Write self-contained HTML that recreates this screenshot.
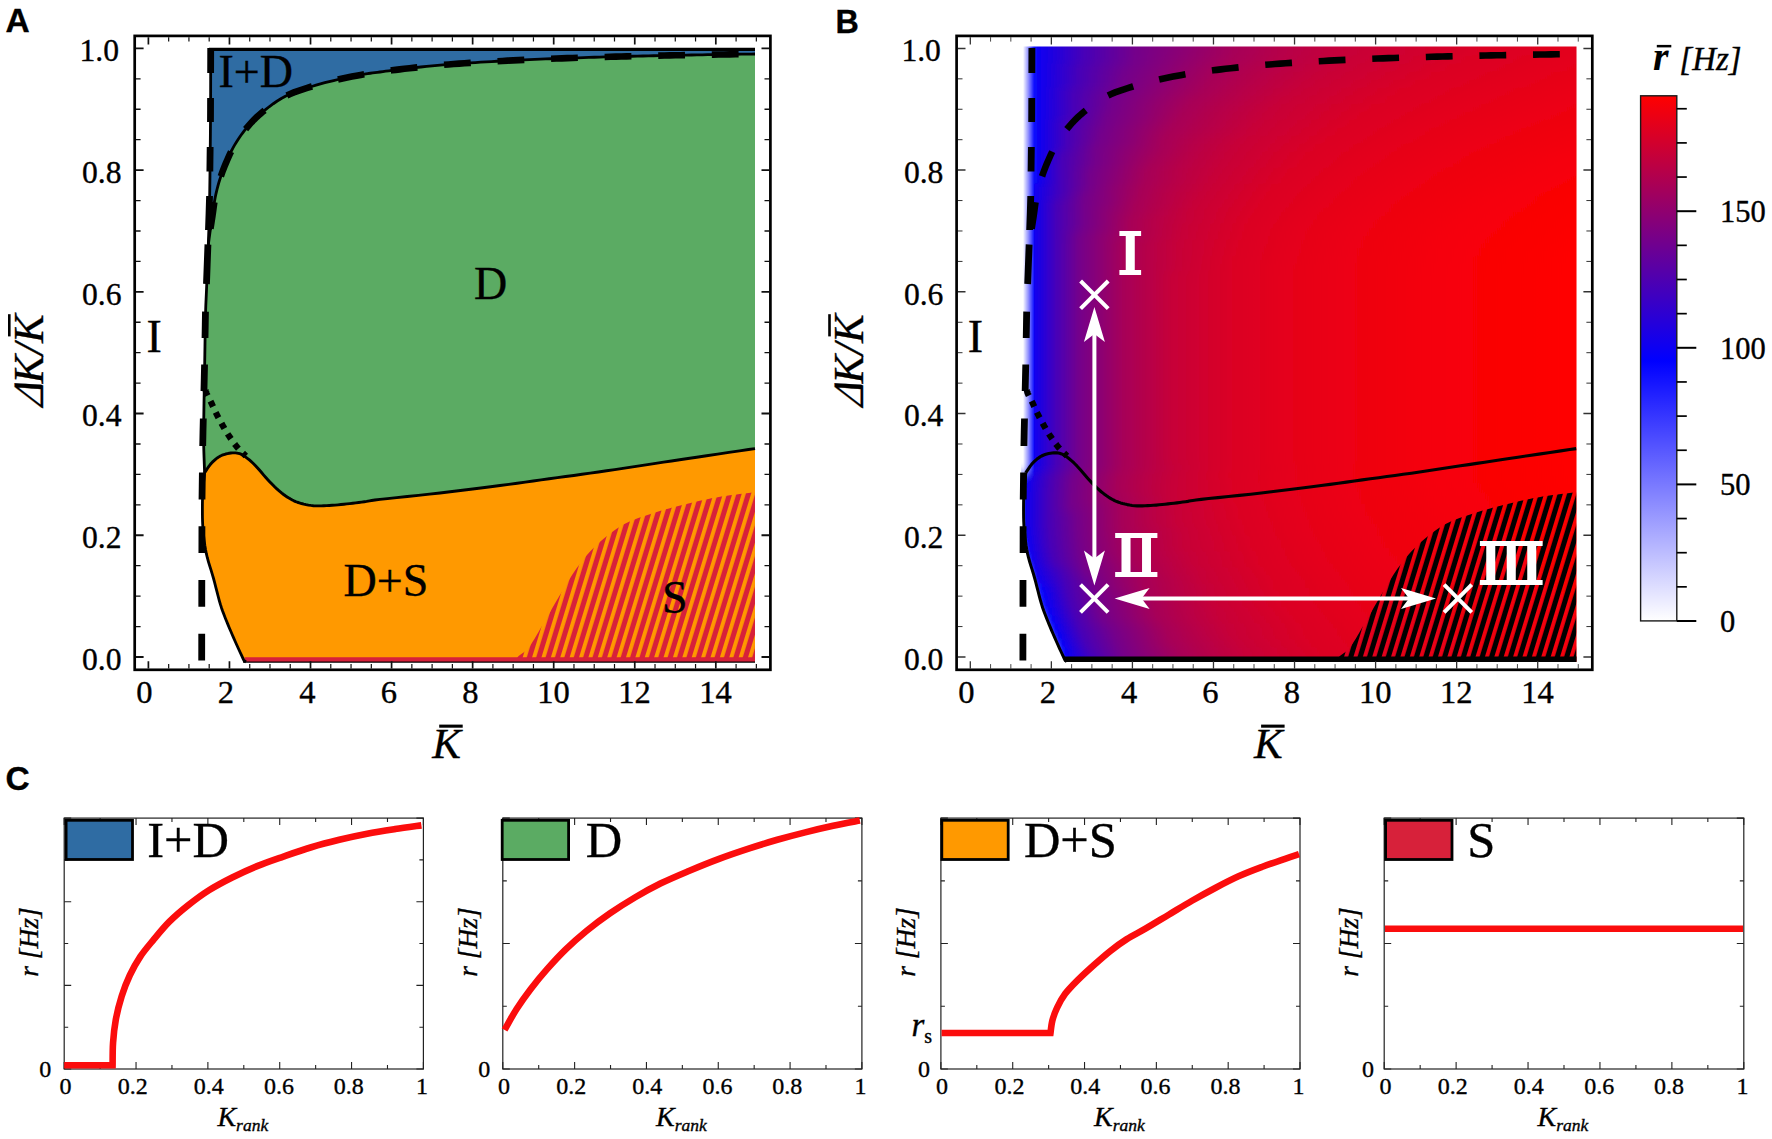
<!DOCTYPE html>
<html lang="en"><head><meta charset="utf-8"><title>Figure</title>
<style>html,body{margin:0;padding:0;background:#fff}body{width:1772px;height:1139px;overflow:hidden}svg{display:block}text{font-family:'Liberation Serif','DejaVu Serif',serif;fill:#000;stroke:#000;stroke-width:.35px}</style>
</head><body>
<svg width="1772" height="1139" viewBox="0 0 1772 1139">
<defs><pattern id="hA" width="8.98" height="20" patternUnits="userSpaceOnUse" patternTransform="translate(0.6 0) rotate(17)"><rect width="8.98" height="20" fill="#d7213a"/><rect x="0" width="3.86" height="20" fill="#ff9900"/></pattern>
<pattern id="hB" width="8.98" height="20" patternUnits="userSpaceOnUse" patternTransform="translate(821.8 0) rotate(17)"><rect x="3.86" width="5.12" height="20" fill="#000"/></pattern>
<linearGradient id="hg0" gradientUnits="userSpaceOnUse" x1="1023" y1="0" x2="1576.5" y2="0"><stop offset="0" stop-color="#ffffff"/><stop offset="0.01" stop-color="#8c8cff"/><stop offset="0.02" stop-color="#0d0dff"/><stop offset="0.03" stop-color="#0f00f0"/><stop offset="0.11" stop-color="#4700b8"/><stop offset="0.2" stop-color="#73008c"/><stop offset="0.29" stop-color="#8c0073"/><stop offset="0.38" stop-color="#a60059"/><stop offset="0.48" stop-color="#b80047"/><stop offset="0.59" stop-color="#c70038"/><stop offset="0.83" stop-color="#db0024"/><stop offset="1" stop-color="#e3001c"/></linearGradient>
<linearGradient id="hg1" gradientUnits="userSpaceOnUse" x1="1023" y1="0" x2="1576.5" y2="0"><stop offset="0" stop-color="#ffffff"/><stop offset="0.01" stop-color="#8c8cff"/><stop offset="0.02" stop-color="#0d0dff"/><stop offset="0.03" stop-color="#0f00f0"/><stop offset="0.11" stop-color="#4700b8"/><stop offset="0.2" stop-color="#73008c"/><stop offset="0.28" stop-color="#8c0073"/><stop offset="0.37" stop-color="#a60059"/><stop offset="0.47" stop-color="#b80047"/><stop offset="0.57" stop-color="#c70038"/><stop offset="0.8" stop-color="#db0024"/><stop offset="1" stop-color="#e5001a"/></linearGradient>
<linearGradient id="hg2" gradientUnits="userSpaceOnUse" x1="1023" y1="0" x2="1576.5" y2="0"><stop offset="0" stop-color="#ffffff"/><stop offset="0.01" stop-color="#8c8cff"/><stop offset="0.02" stop-color="#0d0dff"/><stop offset="0.03" stop-color="#0f00f0"/><stop offset="0.1" stop-color="#4700b8"/><stop offset="0.19" stop-color="#73008c"/><stop offset="0.27" stop-color="#8c0073"/><stop offset="0.35" stop-color="#a60059"/><stop offset="0.45" stop-color="#b80047"/><stop offset="0.55" stop-color="#c70038"/><stop offset="0.77" stop-color="#db0024"/><stop offset="0.98" stop-color="#e5001a"/><stop offset="1" stop-color="#e60019"/></linearGradient>
<linearGradient id="hg3" gradientUnits="userSpaceOnUse" x1="1023" y1="0" x2="1576.5" y2="0"><stop offset="0" stop-color="#ffffff"/><stop offset="0.01" stop-color="#8c8cff"/><stop offset="0.02" stop-color="#0d0dff"/><stop offset="0.03" stop-color="#0f00f0"/><stop offset="0.1" stop-color="#4700b8"/><stop offset="0.18" stop-color="#73008c"/><stop offset="0.26" stop-color="#8c0073"/><stop offset="0.34" stop-color="#a60059"/><stop offset="0.43" stop-color="#b80047"/><stop offset="0.53" stop-color="#c70038"/><stop offset="0.74" stop-color="#db0024"/><stop offset="0.94" stop-color="#e5001a"/><stop offset="1" stop-color="#e80017"/></linearGradient>
<linearGradient id="hg4" gradientUnits="userSpaceOnUse" x1="1023" y1="0" x2="1576.5" y2="0"><stop offset="0" stop-color="#ffffff"/><stop offset="0.01" stop-color="#8c8cff"/><stop offset="0.02" stop-color="#0d0dff"/><stop offset="0.03" stop-color="#0f00f0"/><stop offset="0.1" stop-color="#4700b8"/><stop offset="0.18" stop-color="#73008c"/><stop offset="0.25" stop-color="#8c0073"/><stop offset="0.33" stop-color="#a60059"/><stop offset="0.42" stop-color="#b80047"/><stop offset="0.51" stop-color="#c70038"/><stop offset="0.71" stop-color="#db0024"/><stop offset="0.91" stop-color="#e5001a"/><stop offset="1" stop-color="#e90016"/></linearGradient>
<linearGradient id="hg5" gradientUnits="userSpaceOnUse" x1="1023" y1="0" x2="1576.5" y2="0"><stop offset="0" stop-color="#ffffff"/><stop offset="0.01" stop-color="#8c8cff"/><stop offset="0.02" stop-color="#0d0dff"/><stop offset="0.03" stop-color="#0f00f0"/><stop offset="0.09" stop-color="#4700b8"/><stop offset="0.17" stop-color="#73008c"/><stop offset="0.24" stop-color="#8c0073"/><stop offset="0.32" stop-color="#a60059"/><stop offset="0.4" stop-color="#b80047"/><stop offset="0.49" stop-color="#c70038"/><stop offset="0.68" stop-color="#db0024"/><stop offset="0.87" stop-color="#e5001a"/><stop offset="1" stop-color="#eb0014"/></linearGradient>
<linearGradient id="hg6" gradientUnits="userSpaceOnUse" x1="1023" y1="0" x2="1576.5" y2="0"><stop offset="0" stop-color="#ffffff"/><stop offset="0.01" stop-color="#8c8cff"/><stop offset="0.02" stop-color="#0d0dff"/><stop offset="0.03" stop-color="#0f00f0"/><stop offset="0.09" stop-color="#4700b8"/><stop offset="0.16" stop-color="#73008c"/><stop offset="0.23" stop-color="#8c0073"/><stop offset="0.3" stop-color="#a60059"/><stop offset="0.39" stop-color="#b80047"/><stop offset="0.47" stop-color="#c70038"/><stop offset="0.66" stop-color="#db0024"/><stop offset="0.84" stop-color="#e5001a"/><stop offset="1" stop-color="#ec0013"/></linearGradient>
<linearGradient id="hg7" gradientUnits="userSpaceOnUse" x1="1023" y1="0" x2="1576.5" y2="0"><stop offset="0" stop-color="#ffffff"/><stop offset="0.01" stop-color="#8c8cff"/><stop offset="0.02" stop-color="#0d0dff"/><stop offset="0.03" stop-color="#0f00f0"/><stop offset="0.09" stop-color="#4700b8"/><stop offset="0.16" stop-color="#73008c"/><stop offset="0.22" stop-color="#8c0073"/><stop offset="0.29" stop-color="#a60059"/><stop offset="0.37" stop-color="#b80047"/><stop offset="0.45" stop-color="#c70038"/><stop offset="0.63" stop-color="#db0024"/><stop offset="0.81" stop-color="#e5001a"/><stop offset="0.98" stop-color="#ed0012"/><stop offset="1" stop-color="#ee0011"/></linearGradient>
<linearGradient id="hg8" gradientUnits="userSpaceOnUse" x1="1023" y1="0" x2="1576.5" y2="0"><stop offset="0" stop-color="#ffffff"/><stop offset="0.01" stop-color="#8c8cff"/><stop offset="0.02" stop-color="#0d0dff"/><stop offset="0.03" stop-color="#0f00f0"/><stop offset="0.09" stop-color="#4700b8"/><stop offset="0.15" stop-color="#73008c"/><stop offset="0.22" stop-color="#8c0073"/><stop offset="0.28" stop-color="#a60059"/><stop offset="0.36" stop-color="#b80047"/><stop offset="0.44" stop-color="#c70038"/><stop offset="0.61" stop-color="#db0024"/><stop offset="0.78" stop-color="#e5001a"/><stop offset="0.95" stop-color="#ed0012"/><stop offset="1" stop-color="#ef0010"/></linearGradient>
<linearGradient id="hg9" gradientUnits="userSpaceOnUse" x1="1023" y1="0" x2="1576.5" y2="0"><stop offset="0" stop-color="#ffffff"/><stop offset="0.01" stop-color="#8c8cff"/><stop offset="0.02" stop-color="#0d0dff"/><stop offset="0.03" stop-color="#0f00f0"/><stop offset="0.08" stop-color="#4700b8"/><stop offset="0.15" stop-color="#73008c"/><stop offset="0.21" stop-color="#8c0073"/><stop offset="0.27" stop-color="#a60059"/><stop offset="0.35" stop-color="#b80047"/><stop offset="0.42" stop-color="#c70038"/><stop offset="0.59" stop-color="#db0024"/><stop offset="0.75" stop-color="#e5001a"/><stop offset="0.91" stop-color="#ed0012"/><stop offset="1" stop-color="#f0000f"/></linearGradient>
<linearGradient id="hg10" gradientUnits="userSpaceOnUse" x1="1023" y1="0" x2="1576.5" y2="0"><stop offset="0" stop-color="#ffffff"/><stop offset="0.01" stop-color="#8c8cff"/><stop offset="0.02" stop-color="#0d0dff"/><stop offset="0.03" stop-color="#0f00f0"/><stop offset="0.08" stop-color="#4700b8"/><stop offset="0.14" stop-color="#73008c"/><stop offset="0.2" stop-color="#8c0073"/><stop offset="0.26" stop-color="#a60059"/><stop offset="0.34" stop-color="#b80047"/><stop offset="0.41" stop-color="#c70038"/><stop offset="0.57" stop-color="#db0024"/><stop offset="0.72" stop-color="#e5001a"/><stop offset="0.88" stop-color="#ed0012"/><stop offset="1" stop-color="#f2000d"/></linearGradient>
<linearGradient id="hg11" gradientUnits="userSpaceOnUse" x1="1023" y1="0" x2="1576.5" y2="0"><stop offset="0" stop-color="#ffffff"/><stop offset="0.01" stop-color="#8c8cff"/><stop offset="0.02" stop-color="#0d0dff"/><stop offset="0.03" stop-color="#0f00f0"/><stop offset="0.08" stop-color="#4700b8"/><stop offset="0.14" stop-color="#73008c"/><stop offset="0.2" stop-color="#8c0073"/><stop offset="0.25" stop-color="#a60059"/><stop offset="0.32" stop-color="#b80047"/><stop offset="0.39" stop-color="#c70038"/><stop offset="0.55" stop-color="#db0024"/><stop offset="0.7" stop-color="#e5001a"/><stop offset="0.85" stop-color="#ed0012"/><stop offset="1" stop-color="#f3000c"/></linearGradient>
<linearGradient id="hg12" gradientUnits="userSpaceOnUse" x1="1023" y1="0" x2="1576.5" y2="0"><stop offset="0" stop-color="#ffffff"/><stop offset="0.01" stop-color="#8c8cff"/><stop offset="0.02" stop-color="#0d0dff"/><stop offset="0.03" stop-color="#0f00f0"/><stop offset="0.08" stop-color="#4700b8"/><stop offset="0.13" stop-color="#73008c"/><stop offset="0.19" stop-color="#8c0073"/><stop offset="0.25" stop-color="#a60059"/><stop offset="0.31" stop-color="#b80047"/><stop offset="0.38" stop-color="#c70038"/><stop offset="0.53" stop-color="#db0024"/><stop offset="0.67" stop-color="#e5001a"/><stop offset="0.82" stop-color="#ed0012"/><stop offset="1" stop-color="#f4000b"/></linearGradient>
<linearGradient id="hg13" gradientUnits="userSpaceOnUse" x1="1023" y1="0" x2="1576.5" y2="0"><stop offset="0" stop-color="#ffffff"/><stop offset="0.01" stop-color="#8c8cff"/><stop offset="0.02" stop-color="#0d0dff"/><stop offset="0.03" stop-color="#0f00f0"/><stop offset="0.07" stop-color="#4700b8"/><stop offset="0.13" stop-color="#73008c"/><stop offset="0.18" stop-color="#8c0073"/><stop offset="0.24" stop-color="#a60059"/><stop offset="0.3" stop-color="#b80047"/><stop offset="0.37" stop-color="#c70038"/><stop offset="0.51" stop-color="#db0024"/><stop offset="0.65" stop-color="#e5001a"/><stop offset="0.79" stop-color="#ed0012"/><stop offset="1" stop-color="#f60009"/></linearGradient>
<linearGradient id="hg14" gradientUnits="userSpaceOnUse" x1="1023" y1="0" x2="1576.5" y2="0"><stop offset="0" stop-color="#ffffff"/><stop offset="0.01" stop-color="#8c8cff"/><stop offset="0.02" stop-color="#0d0dff"/><stop offset="0.03" stop-color="#0f00f0"/><stop offset="0.07" stop-color="#4700b8"/><stop offset="0.13" stop-color="#73008c"/><stop offset="0.18" stop-color="#8c0073"/><stop offset="0.23" stop-color="#a60059"/><stop offset="0.29" stop-color="#b80047"/><stop offset="0.36" stop-color="#c70038"/><stop offset="0.5" stop-color="#db0024"/><stop offset="0.63" stop-color="#e5001a"/><stop offset="0.77" stop-color="#ed0012"/><stop offset="1" stop-color="#f70008"/></linearGradient>
<linearGradient id="hg15" gradientUnits="userSpaceOnUse" x1="1023" y1="0" x2="1576.5" y2="0"><stop offset="0" stop-color="#ffffff"/><stop offset="0.01" stop-color="#8c8cff"/><stop offset="0.02" stop-color="#0d0dff"/><stop offset="0.03" stop-color="#0f00f0"/><stop offset="0.07" stop-color="#4700b8"/><stop offset="0.12" stop-color="#73008c"/><stop offset="0.17" stop-color="#8c0073"/><stop offset="0.22" stop-color="#a60059"/><stop offset="0.28" stop-color="#b80047"/><stop offset="0.35" stop-color="#c70038"/><stop offset="0.48" stop-color="#db0024"/><stop offset="0.61" stop-color="#e5001a"/><stop offset="0.74" stop-color="#ed0012"/><stop offset="0.98" stop-color="#f70008"/><stop offset="1" stop-color="#f80007"/></linearGradient>
<linearGradient id="hg16" gradientUnits="userSpaceOnUse" x1="1023" y1="0" x2="1576.5" y2="0"><stop offset="0" stop-color="#ffffff"/><stop offset="0.01" stop-color="#8c8cff"/><stop offset="0.02" stop-color="#0d0dff"/><stop offset="0.03" stop-color="#0f00f0"/><stop offset="0.07" stop-color="#4700b8"/><stop offset="0.12" stop-color="#73008c"/><stop offset="0.17" stop-color="#8c0073"/><stop offset="0.22" stop-color="#a60059"/><stop offset="0.28" stop-color="#b80047"/><stop offset="0.34" stop-color="#c70038"/><stop offset="0.47" stop-color="#db0024"/><stop offset="0.59" stop-color="#e5001a"/><stop offset="0.72" stop-color="#ed0012"/><stop offset="0.95" stop-color="#f70008"/><stop offset="1" stop-color="#f90006"/></linearGradient>
<linearGradient id="hg17" gradientUnits="userSpaceOnUse" x1="1023" y1="0" x2="1576.5" y2="0"><stop offset="0" stop-color="#ffffff"/><stop offset="0.01" stop-color="#8c8cff"/><stop offset="0.02" stop-color="#0d0dff"/><stop offset="0.02" stop-color="#0f00f0"/><stop offset="0.07" stop-color="#4700b8"/><stop offset="0.12" stop-color="#73008c"/><stop offset="0.16" stop-color="#8c0073"/><stop offset="0.21" stop-color="#a60059"/><stop offset="0.27" stop-color="#b80047"/><stop offset="0.33" stop-color="#c70038"/><stop offset="0.45" stop-color="#db0024"/><stop offset="0.58" stop-color="#e5001a"/><stop offset="0.7" stop-color="#ed0012"/><stop offset="0.92" stop-color="#f70008"/><stop offset="1" stop-color="#fa0005"/></linearGradient>
<linearGradient id="hg18" gradientUnits="userSpaceOnUse" x1="1023" y1="0" x2="1576.5" y2="0"><stop offset="0" stop-color="#ffffff"/><stop offset="0.01" stop-color="#8c8cff"/><stop offset="0.02" stop-color="#0d0dff"/><stop offset="0.02" stop-color="#0f00f0"/><stop offset="0.07" stop-color="#4700b8"/><stop offset="0.11" stop-color="#73008c"/><stop offset="0.16" stop-color="#8c0073"/><stop offset="0.21" stop-color="#a60059"/><stop offset="0.26" stop-color="#b80047"/><stop offset="0.32" stop-color="#c70038"/><stop offset="0.44" stop-color="#db0024"/><stop offset="0.56" stop-color="#e5001a"/><stop offset="0.68" stop-color="#ed0012"/><stop offset="0.89" stop-color="#f70008"/><stop offset="1" stop-color="#fb0004"/></linearGradient>
<linearGradient id="hg19" gradientUnits="userSpaceOnUse" x1="1023" y1="0" x2="1576.5" y2="0"><stop offset="0" stop-color="#ffffff"/><stop offset="0.01" stop-color="#8c8cff"/><stop offset="0.02" stop-color="#0d0dff"/><stop offset="0.02" stop-color="#0f00f0"/><stop offset="0.06" stop-color="#4700b8"/><stop offset="0.11" stop-color="#73008c"/><stop offset="0.16" stop-color="#8c0073"/><stop offset="0.2" stop-color="#a60059"/><stop offset="0.26" stop-color="#b80047"/><stop offset="0.31" stop-color="#c70038"/><stop offset="0.43" stop-color="#db0024"/><stop offset="0.55" stop-color="#e5001a"/><stop offset="0.66" stop-color="#ed0012"/><stop offset="0.87" stop-color="#f70008"/><stop offset="1" stop-color="#fb0004"/></linearGradient>
<linearGradient id="hg20" gradientUnits="userSpaceOnUse" x1="1023" y1="0" x2="1576.5" y2="0"><stop offset="0" stop-color="#ffffff"/><stop offset="0.01" stop-color="#8c8cff"/><stop offset="0.02" stop-color="#0d0dff"/><stop offset="0.02" stop-color="#0f00f0"/><stop offset="0.06" stop-color="#4700b8"/><stop offset="0.11" stop-color="#73008c"/><stop offset="0.15" stop-color="#8c0073"/><stop offset="0.2" stop-color="#a60059"/><stop offset="0.25" stop-color="#b80047"/><stop offset="0.3" stop-color="#c70038"/><stop offset="0.42" stop-color="#db0024"/><stop offset="0.53" stop-color="#e5001a"/><stop offset="0.65" stop-color="#ed0012"/><stop offset="0.85" stop-color="#f70008"/><stop offset="1" stop-color="#fc0003"/></linearGradient>
<linearGradient id="hg21" gradientUnits="userSpaceOnUse" x1="1023" y1="0" x2="1576.5" y2="0"><stop offset="0" stop-color="#ffffff"/><stop offset="0.01" stop-color="#8c8cff"/><stop offset="0.02" stop-color="#0d0dff"/><stop offset="0.02" stop-color="#0f00f0"/><stop offset="0.06" stop-color="#4700b8"/><stop offset="0.11" stop-color="#73008c"/><stop offset="0.15" stop-color="#8c0073"/><stop offset="0.19" stop-color="#a60059"/><stop offset="0.24" stop-color="#b80047"/><stop offset="0.3" stop-color="#c70038"/><stop offset="0.41" stop-color="#db0024"/><stop offset="0.52" stop-color="#e5001a"/><stop offset="0.63" stop-color="#ed0012"/><stop offset="0.83" stop-color="#f70008"/><stop offset="1" stop-color="#fd0002"/></linearGradient>
<linearGradient id="hg22" gradientUnits="userSpaceOnUse" x1="1023" y1="0" x2="1576.5" y2="0"><stop offset="0" stop-color="#ffffff"/><stop offset="0.01" stop-color="#8c8cff"/><stop offset="0.02" stop-color="#0d0dff"/><stop offset="0.02" stop-color="#0f00f0"/><stop offset="0.06" stop-color="#4700b8"/><stop offset="0.11" stop-color="#73008c"/><stop offset="0.15" stop-color="#8c0073"/><stop offset="0.19" stop-color="#a60059"/><stop offset="0.24" stop-color="#b80047"/><stop offset="0.29" stop-color="#c70038"/><stop offset="0.4" stop-color="#db0024"/><stop offset="0.51" stop-color="#e5001a"/><stop offset="0.62" stop-color="#ed0012"/><stop offset="0.82" stop-color="#f70008"/><stop offset="1" stop-color="#fd0002"/></linearGradient>
<linearGradient id="hg23" gradientUnits="userSpaceOnUse" x1="1023" y1="0" x2="1576.5" y2="0"><stop offset="0" stop-color="#ffffff"/><stop offset="0.01" stop-color="#8c8cff"/><stop offset="0.02" stop-color="#0d0dff"/><stop offset="0.02" stop-color="#0f00f0"/><stop offset="0.06" stop-color="#4700b8"/><stop offset="0.1" stop-color="#73008c"/><stop offset="0.14" stop-color="#8c0073"/><stop offset="0.19" stop-color="#a60059"/><stop offset="0.24" stop-color="#b80047"/><stop offset="0.29" stop-color="#c70038"/><stop offset="0.4" stop-color="#db0024"/><stop offset="0.5" stop-color="#e5001a"/><stop offset="0.61" stop-color="#ed0012"/><stop offset="0.8" stop-color="#f70008"/><stop offset="1" stop-color="#fe0001"/></linearGradient>
<linearGradient id="hg24" gradientUnits="userSpaceOnUse" x1="1023" y1="0" x2="1576.5" y2="0"><stop offset="0" stop-color="#ffffff"/><stop offset="0.01" stop-color="#8c8cff"/><stop offset="0.02" stop-color="#0d0dff"/><stop offset="0.02" stop-color="#0f00f0"/><stop offset="0.06" stop-color="#4700b8"/><stop offset="0.1" stop-color="#73008c"/><stop offset="0.14" stop-color="#8c0073"/><stop offset="0.18" stop-color="#a60059"/><stop offset="0.23" stop-color="#b80047"/><stop offset="0.28" stop-color="#c70038"/><stop offset="0.39" stop-color="#db0024"/><stop offset="0.5" stop-color="#e5001a"/><stop offset="0.6" stop-color="#ed0012"/><stop offset="0.79" stop-color="#f70008"/><stop offset="1" stop-color="#fe0001"/></linearGradient>
<linearGradient id="hg25" gradientUnits="userSpaceOnUse" x1="1023" y1="0" x2="1576.5" y2="0"><stop offset="0" stop-color="#ffffff"/><stop offset="0.01" stop-color="#8c8cff"/><stop offset="0.02" stop-color="#0d0dff"/><stop offset="0.02" stop-color="#0f00f0"/><stop offset="0.06" stop-color="#4700b8"/><stop offset="0.1" stop-color="#73008c"/><stop offset="0.14" stop-color="#8c0073"/><stop offset="0.18" stop-color="#a60059"/><stop offset="0.23" stop-color="#b80047"/><stop offset="0.28" stop-color="#c70038"/><stop offset="0.39" stop-color="#db0024"/><stop offset="0.49" stop-color="#e5001a"/><stop offset="0.6" stop-color="#ed0012"/><stop offset="0.78" stop-color="#f70008"/><stop offset="1" stop-color="#ff0000"/></linearGradient>
<linearGradient id="hg26" gradientUnits="userSpaceOnUse" x1="1023" y1="0" x2="1576.5" y2="0"><stop offset="0" stop-color="#ffffff"/><stop offset="0.01" stop-color="#8c8cff"/><stop offset="0.02" stop-color="#0d0dff"/><stop offset="0.02" stop-color="#0f00f0"/><stop offset="0.06" stop-color="#4700b8"/><stop offset="0.1" stop-color="#73008c"/><stop offset="0.14" stop-color="#8c0073"/><stop offset="0.18" stop-color="#a60059"/><stop offset="0.23" stop-color="#b80047"/><stop offset="0.28" stop-color="#c70038"/><stop offset="0.38" stop-color="#db0024"/><stop offset="0.49" stop-color="#e5001a"/><stop offset="0.59" stop-color="#ed0012"/><stop offset="0.78" stop-color="#f70008"/><stop offset="1" stop-color="#ff0000"/></linearGradient>
<linearGradient id="hg27" gradientUnits="userSpaceOnUse" x1="1023" y1="0" x2="1576.5" y2="0"><stop offset="0" stop-color="#ffffff"/><stop offset="0.01" stop-color="#8c8cff"/><stop offset="0.02" stop-color="#0d0dff"/><stop offset="0.02" stop-color="#0f00f0"/><stop offset="0.06" stop-color="#4700b8"/><stop offset="0.1" stop-color="#73008c"/><stop offset="0.14" stop-color="#8c0073"/><stop offset="0.18" stop-color="#a60059"/><stop offset="0.23" stop-color="#b80047"/><stop offset="0.28" stop-color="#c70038"/><stop offset="0.38" stop-color="#db0024"/><stop offset="0.48" stop-color="#e5001a"/><stop offset="0.59" stop-color="#ed0012"/><stop offset="0.77" stop-color="#f70008"/><stop offset="0.99" stop-color="#ff0000"/></linearGradient>
<linearGradient id="hg28" gradientUnits="userSpaceOnUse" x1="1023" y1="0" x2="1576.5" y2="0"><stop offset="0" stop-color="#ffffff"/><stop offset="0.01" stop-color="#8c8cff"/><stop offset="0.02" stop-color="#0d0dff"/><stop offset="0.02" stop-color="#0f00f0"/><stop offset="0.06" stop-color="#4700b8"/><stop offset="0.1" stop-color="#73008c"/><stop offset="0.14" stop-color="#8c0073"/><stop offset="0.18" stop-color="#a60059"/><stop offset="0.23" stop-color="#b80047"/><stop offset="0.27" stop-color="#c70038"/><stop offset="0.38" stop-color="#db0024"/><stop offset="0.48" stop-color="#e5001a"/><stop offset="0.59" stop-color="#ed0012"/><stop offset="0.77" stop-color="#f70008"/><stop offset="0.99" stop-color="#ff0000"/></linearGradient>
<linearGradient id="hg29" gradientUnits="userSpaceOnUse" x1="1023" y1="0" x2="1576.5" y2="0"><stop offset="0" stop-color="#ffffff"/><stop offset="0.01" stop-color="#8c8cff"/><stop offset="0.02" stop-color="#0d0dff"/><stop offset="0.02" stop-color="#0f00f0"/><stop offset="0.06" stop-color="#4700b8"/><stop offset="0.1" stop-color="#73008c"/><stop offset="0.14" stop-color="#8c0073"/><stop offset="0.18" stop-color="#a60059"/><stop offset="0.23" stop-color="#b80047"/><stop offset="0.27" stop-color="#c70038"/><stop offset="0.38" stop-color="#db0024"/><stop offset="0.48" stop-color="#e5001a"/><stop offset="0.59" stop-color="#ed0012"/><stop offset="0.77" stop-color="#f70008"/><stop offset="0.99" stop-color="#ff0000"/></linearGradient>
<linearGradient id="hg30" gradientUnits="userSpaceOnUse" x1="1023" y1="0" x2="1576.5" y2="0"><stop offset="0" stop-color="#ffffff"/><stop offset="0.01" stop-color="#8c8cff"/><stop offset="0.02" stop-color="#0d0dff"/><stop offset="0.02" stop-color="#0f00f0"/><stop offset="0.06" stop-color="#4700b8"/><stop offset="0.1" stop-color="#73008c"/><stop offset="0.14" stop-color="#8c0073"/><stop offset="0.18" stop-color="#a60059"/><stop offset="0.23" stop-color="#b80047"/><stop offset="0.27" stop-color="#c70038"/><stop offset="0.38" stop-color="#db0024"/><stop offset="0.48" stop-color="#e5001a"/><stop offset="0.59" stop-color="#ed0012"/><stop offset="0.77" stop-color="#f70008"/><stop offset="0.99" stop-color="#ff0000"/></linearGradient>
<linearGradient id="hg31" gradientUnits="userSpaceOnUse" x1="1023" y1="0" x2="1576.5" y2="0"><stop offset="0" stop-color="#ffffff"/><stop offset="0.01" stop-color="#8c8cff"/><stop offset="0.02" stop-color="#0d0dff"/><stop offset="0.02" stop-color="#0f00f0"/><stop offset="0.06" stop-color="#4700b8"/><stop offset="0.1" stop-color="#73008c"/><stop offset="0.14" stop-color="#8c0073"/><stop offset="0.18" stop-color="#a60059"/><stop offset="0.23" stop-color="#b80047"/><stop offset="0.27" stop-color="#c70038"/><stop offset="0.38" stop-color="#db0024"/><stop offset="0.48" stop-color="#e5001a"/><stop offset="0.59" stop-color="#ed0012"/><stop offset="0.77" stop-color="#f70008"/><stop offset="0.99" stop-color="#ff0000"/></linearGradient>
<linearGradient id="hg32" gradientUnits="userSpaceOnUse" x1="1023" y1="0" x2="1576.5" y2="0"><stop offset="0" stop-color="#ffffff"/><stop offset="0.01" stop-color="#8c8cff"/><stop offset="0.02" stop-color="#0d0dff"/><stop offset="0.02" stop-color="#0f00f0"/><stop offset="0.06" stop-color="#4700b8"/><stop offset="0.1" stop-color="#73008c"/><stop offset="0.14" stop-color="#8c0073"/><stop offset="0.18" stop-color="#a60059"/><stop offset="0.23" stop-color="#b80047"/><stop offset="0.27" stop-color="#c70038"/><stop offset="0.38" stop-color="#db0024"/><stop offset="0.48" stop-color="#e5001a"/><stop offset="0.59" stop-color="#ed0012"/><stop offset="0.77" stop-color="#f70008"/><stop offset="0.99" stop-color="#ff0000"/></linearGradient>
<linearGradient id="hg33" gradientUnits="userSpaceOnUse" x1="1023" y1="0" x2="1576.5" y2="0"><stop offset="0" stop-color="#ffffff"/><stop offset="0.01" stop-color="#8c8cff"/><stop offset="0.02" stop-color="#0d0dff"/><stop offset="0.02" stop-color="#0f00f0"/><stop offset="0.06" stop-color="#4700b8"/><stop offset="0.1" stop-color="#73008c"/><stop offset="0.14" stop-color="#8c0073"/><stop offset="0.18" stop-color="#a60059"/><stop offset="0.23" stop-color="#b80047"/><stop offset="0.27" stop-color="#c70038"/><stop offset="0.38" stop-color="#db0024"/><stop offset="0.48" stop-color="#e5001a"/><stop offset="0.59" stop-color="#ed0012"/><stop offset="0.77" stop-color="#f70008"/><stop offset="0.99" stop-color="#ff0000"/></linearGradient>
<linearGradient id="hg34" gradientUnits="userSpaceOnUse" x1="1023" y1="0" x2="1576.5" y2="0"><stop offset="0" stop-color="#ffffff"/><stop offset="0.01" stop-color="#8c8cff"/><stop offset="0.02" stop-color="#0d0dff"/><stop offset="0.02" stop-color="#0f00f0"/><stop offset="0.06" stop-color="#4700b8"/><stop offset="0.1" stop-color="#73008c"/><stop offset="0.14" stop-color="#8c0073"/><stop offset="0.18" stop-color="#a60059"/><stop offset="0.23" stop-color="#b80047"/><stop offset="0.27" stop-color="#c70038"/><stop offset="0.38" stop-color="#db0024"/><stop offset="0.48" stop-color="#e5001a"/><stop offset="0.59" stop-color="#ed0012"/><stop offset="0.77" stop-color="#f70008"/><stop offset="0.99" stop-color="#ff0000"/></linearGradient>
<linearGradient id="hg35" gradientUnits="userSpaceOnUse" x1="1023" y1="0" x2="1576.5" y2="0"><stop offset="0" stop-color="#ffffff"/><stop offset="0.01" stop-color="#8c8cff"/><stop offset="0.02" stop-color="#0d0dff"/><stop offset="0.02" stop-color="#0f00f0"/><stop offset="0.06" stop-color="#4700b8"/><stop offset="0.1" stop-color="#73008c"/><stop offset="0.14" stop-color="#8c0073"/><stop offset="0.18" stop-color="#a60059"/><stop offset="0.23" stop-color="#b80047"/><stop offset="0.27" stop-color="#c70038"/><stop offset="0.38" stop-color="#db0024"/><stop offset="0.48" stop-color="#e5001a"/><stop offset="0.59" stop-color="#ed0012"/><stop offset="0.77" stop-color="#f70008"/><stop offset="0.99" stop-color="#ff0000"/></linearGradient>
<linearGradient id="hg36" gradientUnits="userSpaceOnUse" x1="1023" y1="0" x2="1576.5" y2="0"><stop offset="0" stop-color="#ffffff"/><stop offset="0.01" stop-color="#8c8cff"/><stop offset="0.02" stop-color="#0d0dff"/><stop offset="0.02" stop-color="#0f00f0"/><stop offset="0.06" stop-color="#4700b8"/><stop offset="0.1" stop-color="#73008c"/><stop offset="0.14" stop-color="#8c0073"/><stop offset="0.18" stop-color="#a60059"/><stop offset="0.23" stop-color="#b80047"/><stop offset="0.27" stop-color="#c70038"/><stop offset="0.38" stop-color="#db0024"/><stop offset="0.48" stop-color="#e5001a"/><stop offset="0.59" stop-color="#ed0012"/><stop offset="0.77" stop-color="#f70008"/><stop offset="0.99" stop-color="#ff0000"/></linearGradient>
<linearGradient id="hg37" gradientUnits="userSpaceOnUse" x1="1023" y1="0" x2="1576.5" y2="0"><stop offset="0" stop-color="#ffffff"/><stop offset="0.01" stop-color="#8c8cff"/><stop offset="0.02" stop-color="#0d0dff"/><stop offset="0.02" stop-color="#0f00f0"/><stop offset="0.06" stop-color="#4700b8"/><stop offset="0.1" stop-color="#73008c"/><stop offset="0.14" stop-color="#8c0073"/><stop offset="0.18" stop-color="#a60059"/><stop offset="0.23" stop-color="#b80047"/><stop offset="0.27" stop-color="#c70038"/><stop offset="0.38" stop-color="#db0024"/><stop offset="0.48" stop-color="#e5001a"/><stop offset="0.59" stop-color="#ed0012"/><stop offset="0.77" stop-color="#f70008"/><stop offset="0.99" stop-color="#ff0000"/></linearGradient>
<linearGradient id="hg38" gradientUnits="userSpaceOnUse" x1="1023" y1="0" x2="1576.5" y2="0"><stop offset="0" stop-color="#ffffff"/><stop offset="0.01" stop-color="#8c8cff"/><stop offset="0.02" stop-color="#0d0dff"/><stop offset="0.02" stop-color="#0f00f0"/><stop offset="0.06" stop-color="#4700b8"/><stop offset="0.1" stop-color="#73008c"/><stop offset="0.14" stop-color="#8c0073"/><stop offset="0.18" stop-color="#a60059"/><stop offset="0.23" stop-color="#b80047"/><stop offset="0.27" stop-color="#c70038"/><stop offset="0.38" stop-color="#db0024"/><stop offset="0.48" stop-color="#e5001a"/><stop offset="0.59" stop-color="#ed0012"/><stop offset="0.77" stop-color="#f70008"/><stop offset="0.99" stop-color="#ff0000"/></linearGradient>
<linearGradient id="hg39" gradientUnits="userSpaceOnUse" x1="1023" y1="0" x2="1576.5" y2="0"><stop offset="0" stop-color="#ffffff"/><stop offset="0.01" stop-color="#8c8cff"/><stop offset="0.02" stop-color="#0d0dff"/><stop offset="0.02" stop-color="#0f00f0"/><stop offset="0.06" stop-color="#4700b8"/><stop offset="0.1" stop-color="#73008c"/><stop offset="0.14" stop-color="#8c0073"/><stop offset="0.18" stop-color="#a60059"/><stop offset="0.23" stop-color="#b80047"/><stop offset="0.27" stop-color="#c70038"/><stop offset="0.38" stop-color="#db0024"/><stop offset="0.48" stop-color="#e5001a"/><stop offset="0.59" stop-color="#ed0012"/><stop offset="0.77" stop-color="#f70008"/><stop offset="0.99" stop-color="#ff0000"/></linearGradient>
<linearGradient id="hg40" gradientUnits="userSpaceOnUse" x1="1023" y1="0" x2="1576.5" y2="0"><stop offset="0" stop-color="#ffffff"/><stop offset="0.01" stop-color="#8c8cff"/><stop offset="0.02" stop-color="#0d0dff"/><stop offset="0.02" stop-color="#0f00f0"/><stop offset="0.06" stop-color="#4700b8"/><stop offset="0.1" stop-color="#73008c"/><stop offset="0.14" stop-color="#8c0073"/><stop offset="0.18" stop-color="#a60059"/><stop offset="0.23" stop-color="#b80047"/><stop offset="0.27" stop-color="#c70038"/><stop offset="0.38" stop-color="#db0024"/><stop offset="0.48" stop-color="#e5001a"/><stop offset="0.59" stop-color="#ed0012"/><stop offset="0.77" stop-color="#f70008"/><stop offset="0.99" stop-color="#ff0000"/></linearGradient>
<linearGradient id="hg41" gradientUnits="userSpaceOnUse" x1="1023" y1="0" x2="1576.5" y2="0"><stop offset="0" stop-color="#ffffff"/><stop offset="0.01" stop-color="#8c8cff"/><stop offset="0.02" stop-color="#0d0dff"/><stop offset="0.02" stop-color="#0f00f0"/><stop offset="0.06" stop-color="#4700b8"/><stop offset="0.1" stop-color="#73008c"/><stop offset="0.14" stop-color="#8c0073"/><stop offset="0.18" stop-color="#a60059"/><stop offset="0.23" stop-color="#b80047"/><stop offset="0.27" stop-color="#c70038"/><stop offset="0.38" stop-color="#db0024"/><stop offset="0.48" stop-color="#e5001a"/><stop offset="0.59" stop-color="#ed0012"/><stop offset="0.77" stop-color="#f70008"/><stop offset="0.99" stop-color="#ff0000"/></linearGradient>
<linearGradient id="hg42" gradientUnits="userSpaceOnUse" x1="1023" y1="0" x2="1576.5" y2="0"><stop offset="0" stop-color="#ffffff"/><stop offset="0.01" stop-color="#8c8cff"/><stop offset="0.02" stop-color="#0d0dff"/><stop offset="0.02" stop-color="#0f00f0"/><stop offset="0.06" stop-color="#4700b8"/><stop offset="0.1" stop-color="#73008c"/><stop offset="0.14" stop-color="#8c0073"/><stop offset="0.18" stop-color="#a60059"/><stop offset="0.23" stop-color="#b80047"/><stop offset="0.27" stop-color="#c70038"/><stop offset="0.38" stop-color="#db0024"/><stop offset="0.48" stop-color="#e5001a"/><stop offset="0.59" stop-color="#ed0012"/><stop offset="0.77" stop-color="#f70008"/><stop offset="0.99" stop-color="#ff0000"/></linearGradient>
<linearGradient id="hg43" gradientUnits="userSpaceOnUse" x1="1023" y1="0" x2="1576.5" y2="0"><stop offset="0" stop-color="#ffffff"/><stop offset="0.01" stop-color="#8c8cff"/><stop offset="0.02" stop-color="#0d0dff"/><stop offset="0.02" stop-color="#0f00f0"/><stop offset="0.06" stop-color="#4700b8"/><stop offset="0.1" stop-color="#73008c"/><stop offset="0.14" stop-color="#8c0073"/><stop offset="0.18" stop-color="#a60059"/><stop offset="0.23" stop-color="#b80047"/><stop offset="0.27" stop-color="#c70038"/><stop offset="0.38" stop-color="#db0024"/><stop offset="0.48" stop-color="#e5001a"/><stop offset="0.59" stop-color="#ed0012"/><stop offset="0.77" stop-color="#f70008"/><stop offset="0.99" stop-color="#ff0000"/></linearGradient>
<linearGradient id="hg44" gradientUnits="userSpaceOnUse" x1="1023" y1="0" x2="1576.5" y2="0"><stop offset="0" stop-color="#ffffff"/><stop offset="0.01" stop-color="#8c8cff"/><stop offset="0.02" stop-color="#0d0dff"/><stop offset="0.02" stop-color="#0f00f0"/><stop offset="0.06" stop-color="#4700b8"/><stop offset="0.1" stop-color="#73008c"/><stop offset="0.14" stop-color="#8c0073"/><stop offset="0.18" stop-color="#a60059"/><stop offset="0.23" stop-color="#b80047"/><stop offset="0.27" stop-color="#c70038"/><stop offset="0.38" stop-color="#db0024"/><stop offset="0.48" stop-color="#e5001a"/><stop offset="0.59" stop-color="#ed0012"/><stop offset="0.77" stop-color="#f70008"/><stop offset="0.99" stop-color="#ff0000"/></linearGradient>
<linearGradient id="hg45" gradientUnits="userSpaceOnUse" x1="1023" y1="0" x2="1576.5" y2="0"><stop offset="0" stop-color="#ffffff"/><stop offset="0.01" stop-color="#8c8cff"/><stop offset="0.02" stop-color="#0d0dff"/><stop offset="0.02" stop-color="#0f00f0"/><stop offset="0.06" stop-color="#4700b8"/><stop offset="0.1" stop-color="#73008c"/><stop offset="0.14" stop-color="#8c0073"/><stop offset="0.18" stop-color="#a60059"/><stop offset="0.23" stop-color="#b80047"/><stop offset="0.27" stop-color="#c70038"/><stop offset="0.38" stop-color="#db0024"/><stop offset="0.48" stop-color="#e5001a"/><stop offset="0.59" stop-color="#ed0012"/><stop offset="0.77" stop-color="#f70008"/><stop offset="0.99" stop-color="#ff0000"/></linearGradient>
<linearGradient id="hg46" gradientUnits="userSpaceOnUse" x1="1023" y1="0" x2="1576.5" y2="0"><stop offset="0" stop-color="#ffffff"/><stop offset="0.01" stop-color="#8c8cff"/><stop offset="0.02" stop-color="#0d0dff"/><stop offset="0.02" stop-color="#0f00f0"/><stop offset="0.06" stop-color="#4700b8"/><stop offset="0.1" stop-color="#73008c"/><stop offset="0.14" stop-color="#8c0073"/><stop offset="0.18" stop-color="#a60059"/><stop offset="0.23" stop-color="#b80047"/><stop offset="0.27" stop-color="#c70038"/><stop offset="0.38" stop-color="#db0024"/><stop offset="0.48" stop-color="#e5001a"/><stop offset="0.59" stop-color="#ed0012"/><stop offset="0.77" stop-color="#f70008"/><stop offset="0.99" stop-color="#ff0000"/></linearGradient>
<linearGradient id="hg47" gradientUnits="userSpaceOnUse" x1="1023" y1="0" x2="1576.5" y2="0"><stop offset="0" stop-color="#ffffff"/><stop offset="0.01" stop-color="#8c8cff"/><stop offset="0.02" stop-color="#0d0dff"/><stop offset="0.02" stop-color="#0f00f0"/><stop offset="0.06" stop-color="#4700b8"/><stop offset="0.1" stop-color="#73008c"/><stop offset="0.14" stop-color="#8c0073"/><stop offset="0.18" stop-color="#a60059"/><stop offset="0.23" stop-color="#b80047"/><stop offset="0.27" stop-color="#c70038"/><stop offset="0.38" stop-color="#db0024"/><stop offset="0.48" stop-color="#e5001a"/><stop offset="0.59" stop-color="#ed0012"/><stop offset="0.77" stop-color="#f70008"/><stop offset="0.99" stop-color="#ff0000"/></linearGradient>
<linearGradient id="hg48" gradientUnits="userSpaceOnUse" x1="1023" y1="0" x2="1576.5" y2="0"><stop offset="0" stop-color="#ffffff"/><stop offset="0.01" stop-color="#8c8cff"/><stop offset="0.02" stop-color="#0d0dff"/><stop offset="0.02" stop-color="#0f00f0"/><stop offset="0.06" stop-color="#4700b8"/><stop offset="0.1" stop-color="#73008c"/><stop offset="0.14" stop-color="#8c0073"/><stop offset="0.18" stop-color="#a60059"/><stop offset="0.23" stop-color="#b80047"/><stop offset="0.27" stop-color="#c70038"/><stop offset="0.38" stop-color="#db0024"/><stop offset="0.48" stop-color="#e5001a"/><stop offset="0.59" stop-color="#ed0012"/><stop offset="0.77" stop-color="#f70008"/><stop offset="0.99" stop-color="#ff0000"/></linearGradient>
<linearGradient id="hg49" gradientUnits="userSpaceOnUse" x1="1023" y1="0" x2="1576.5" y2="0"><stop offset="0" stop-color="#ffffff"/><stop offset="0.01" stop-color="#8c8cff"/><stop offset="0.02" stop-color="#0d0dff"/><stop offset="0.02" stop-color="#0f00f0"/><stop offset="0.06" stop-color="#4700b8"/><stop offset="0.1" stop-color="#73008c"/><stop offset="0.14" stop-color="#8c0073"/><stop offset="0.18" stop-color="#a60059"/><stop offset="0.23" stop-color="#b80047"/><stop offset="0.27" stop-color="#c70038"/><stop offset="0.38" stop-color="#db0024"/><stop offset="0.48" stop-color="#e5001a"/><stop offset="0.59" stop-color="#ed0012"/><stop offset="0.77" stop-color="#f70008"/><stop offset="0.99" stop-color="#ff0000"/></linearGradient>
<linearGradient id="hg50" gradientUnits="userSpaceOnUse" x1="1023" y1="0" x2="1576.5" y2="0"><stop offset="0" stop-color="#ffffff"/><stop offset="0.01" stop-color="#8c8cff"/><stop offset="0.02" stop-color="#0d0dff"/><stop offset="0.02" stop-color="#0f00f0"/><stop offset="0.06" stop-color="#4700b8"/><stop offset="0.1" stop-color="#73008c"/><stop offset="0.14" stop-color="#8c0073"/><stop offset="0.18" stop-color="#a60059"/><stop offset="0.23" stop-color="#b80047"/><stop offset="0.27" stop-color="#c70038"/><stop offset="0.38" stop-color="#db0024"/><stop offset="0.48" stop-color="#e5001a"/><stop offset="0.59" stop-color="#ed0012"/><stop offset="0.77" stop-color="#f70008"/><stop offset="0.99" stop-color="#ff0000"/></linearGradient>
<linearGradient id="hg51" gradientUnits="userSpaceOnUse" x1="1023" y1="0" x2="1576.5" y2="0"><stop offset="0" stop-color="#ffffff"/><stop offset="0.01" stop-color="#8c8cff"/><stop offset="0.02" stop-color="#0d0dff"/><stop offset="0.02" stop-color="#0f00f0"/><stop offset="0.06" stop-color="#4700b8"/><stop offset="0.1" stop-color="#73008c"/><stop offset="0.14" stop-color="#8c0073"/><stop offset="0.18" stop-color="#a60059"/><stop offset="0.23" stop-color="#b80047"/><stop offset="0.27" stop-color="#c70038"/><stop offset="0.38" stop-color="#db0024"/><stop offset="0.48" stop-color="#e5001a"/><stop offset="0.59" stop-color="#ed0012"/><stop offset="0.77" stop-color="#f70008"/><stop offset="0.99" stop-color="#ff0000"/></linearGradient>
<linearGradient id="hg52" gradientUnits="userSpaceOnUse" x1="1023" y1="0" x2="1576.5" y2="0"><stop offset="0" stop-color="#ffffff"/><stop offset="0.01" stop-color="#8c8cff"/><stop offset="0.02" stop-color="#0d0dff"/><stop offset="0.02" stop-color="#0f00f0"/><stop offset="0.06" stop-color="#4700b8"/><stop offset="0.1" stop-color="#73008c"/><stop offset="0.14" stop-color="#8c0073"/><stop offset="0.18" stop-color="#a60059"/><stop offset="0.23" stop-color="#b80047"/><stop offset="0.28" stop-color="#c70038"/><stop offset="0.38" stop-color="#db0024"/><stop offset="0.49" stop-color="#e5001a"/><stop offset="0.59" stop-color="#ed0012"/><stop offset="0.77" stop-color="#f70008"/><stop offset="1" stop-color="#ff0000"/></linearGradient>
<linearGradient id="hg53" gradientUnits="userSpaceOnUse" x1="1016.49" y1="0" x2="1576.5" y2="0"><stop offset="0" stop-color="#ffffff"/><stop offset="0.01" stop-color="#8c8cff"/><stop offset="0.02" stop-color="#0d0dff"/><stop offset="0.02" stop-color="#0f00f0"/><stop offset="0.06" stop-color="#4700b8"/><stop offset="0.1" stop-color="#73008c"/><stop offset="0.14" stop-color="#8c0073"/><stop offset="0.18" stop-color="#a60059"/><stop offset="0.23" stop-color="#b80047"/><stop offset="0.28" stop-color="#c70038"/><stop offset="0.38" stop-color="#db0024"/><stop offset="0.49" stop-color="#e5001a"/><stop offset="0.59" stop-color="#ed0012"/><stop offset="0.77" stop-color="#f70008"/><stop offset="1" stop-color="#ff0000"/></linearGradient>
<linearGradient id="hg54" gradientUnits="userSpaceOnUse" x1="1015.64" y1="0" x2="1576.5" y2="0"><stop offset="0" stop-color="#ffffff"/><stop offset="0.01" stop-color="#8c8cff"/><stop offset="0.02" stop-color="#0d0dff"/><stop offset="0.02" stop-color="#0f00f0"/><stop offset="0.06" stop-color="#4700b8"/><stop offset="0.1" stop-color="#73008c"/><stop offset="0.14" stop-color="#8c0073"/><stop offset="0.18" stop-color="#a60059"/><stop offset="0.23" stop-color="#b80047"/><stop offset="0.28" stop-color="#c70038"/><stop offset="0.39" stop-color="#db0024"/><stop offset="0.49" stop-color="#e5001a"/><stop offset="0.6" stop-color="#ed0012"/><stop offset="0.78" stop-color="#f70008"/><stop offset="1" stop-color="#ff0000"/></linearGradient>
<linearGradient id="hg55" gradientUnits="userSpaceOnUse" x1="1015.01" y1="0" x2="1576.5" y2="0"><stop offset="0" stop-color="#ffffff"/><stop offset="0.01" stop-color="#8c8cff"/><stop offset="0.02" stop-color="#0d0dff"/><stop offset="0.02" stop-color="#0f00f0"/><stop offset="0.06" stop-color="#4700b8"/><stop offset="0.1" stop-color="#73008c"/><stop offset="0.14" stop-color="#8c0073"/><stop offset="0.18" stop-color="#a60059"/><stop offset="0.23" stop-color="#b80047"/><stop offset="0.28" stop-color="#c70038"/><stop offset="0.39" stop-color="#db0024"/><stop offset="0.5" stop-color="#e5001a"/><stop offset="0.6" stop-color="#ed0012"/><stop offset="0.79" stop-color="#f70008"/><stop offset="1" stop-color="#fe0001"/></linearGradient>
<linearGradient id="hg56" gradientUnits="userSpaceOnUse" x1="1014.69" y1="0" x2="1576.5" y2="0"><stop offset="0" stop-color="#ffffff"/><stop offset="0.01" stop-color="#8c8cff"/><stop offset="0.02" stop-color="#0d0dff"/><stop offset="0.02" stop-color="#0f00f0"/><stop offset="0.06" stop-color="#4700b8"/><stop offset="0.1" stop-color="#73008c"/><stop offset="0.14" stop-color="#8c0073"/><stop offset="0.19" stop-color="#a60059"/><stop offset="0.24" stop-color="#b80047"/><stop offset="0.28" stop-color="#c70038"/><stop offset="0.39" stop-color="#db0024"/><stop offset="0.5" stop-color="#e5001a"/><stop offset="0.61" stop-color="#ed0012"/><stop offset="0.8" stop-color="#f70008"/><stop offset="1" stop-color="#fe0001"/></linearGradient>
<linearGradient id="hg57" gradientUnits="userSpaceOnUse" x1="1014.6" y1="0" x2="1576.5" y2="0"><stop offset="0" stop-color="#ffffff"/><stop offset="0.01" stop-color="#8c8cff"/><stop offset="0.02" stop-color="#0d0dff"/><stop offset="0.02" stop-color="#0f00f0"/><stop offset="0.06" stop-color="#4700b8"/><stop offset="0.1" stop-color="#73008c"/><stop offset="0.15" stop-color="#8c0073"/><stop offset="0.19" stop-color="#a60059"/><stop offset="0.24" stop-color="#b80047"/><stop offset="0.29" stop-color="#c70038"/><stop offset="0.4" stop-color="#db0024"/><stop offset="0.51" stop-color="#e5001a"/><stop offset="0.61" stop-color="#ed0012"/><stop offset="0.81" stop-color="#f70008"/><stop offset="1" stop-color="#fe0001"/></linearGradient>
<linearGradient id="hg58" gradientUnits="userSpaceOnUse" x1="1014.63" y1="0" x2="1576.5" y2="0"><stop offset="0" stop-color="#ffffff"/><stop offset="0.01" stop-color="#8c8cff"/><stop offset="0.02" stop-color="#0d0dff"/><stop offset="0.02" stop-color="#0f00f0"/><stop offset="0.06" stop-color="#4700b8"/><stop offset="0.11" stop-color="#73008c"/><stop offset="0.15" stop-color="#8c0073"/><stop offset="0.19" stop-color="#a60059"/><stop offset="0.24" stop-color="#b80047"/><stop offset="0.29" stop-color="#c70038"/><stop offset="0.4" stop-color="#db0024"/><stop offset="0.51" stop-color="#e5001a"/><stop offset="0.62" stop-color="#ed0012"/><stop offset="0.82" stop-color="#f70008"/><stop offset="1" stop-color="#fd0002"/></linearGradient>
<linearGradient id="hg59" gradientUnits="userSpaceOnUse" x1="1014.85" y1="0" x2="1576.5" y2="0"><stop offset="0" stop-color="#ffffff"/><stop offset="0.01" stop-color="#8c8cff"/><stop offset="0.02" stop-color="#0d0dff"/><stop offset="0.02" stop-color="#0f00f0"/><stop offset="0.06" stop-color="#4700b8"/><stop offset="0.11" stop-color="#73008c"/><stop offset="0.15" stop-color="#8c0073"/><stop offset="0.19" stop-color="#a60059"/><stop offset="0.24" stop-color="#b80047"/><stop offset="0.29" stop-color="#c70038"/><stop offset="0.41" stop-color="#db0024"/><stop offset="0.52" stop-color="#e5001a"/><stop offset="0.63" stop-color="#ed0012"/><stop offset="0.83" stop-color="#f70008"/><stop offset="1" stop-color="#fd0002"/></linearGradient>
<linearGradient id="hg60" gradientUnits="userSpaceOnUse" x1="1015.44" y1="0" x2="1576.5" y2="0"><stop offset="0" stop-color="#ffffff"/><stop offset="0.01" stop-color="#8c8cff"/><stop offset="0.02" stop-color="#0d0dff"/><stop offset="0.02" stop-color="#0f00f0"/><stop offset="0.06" stop-color="#4700b8"/><stop offset="0.11" stop-color="#73008c"/><stop offset="0.15" stop-color="#8c0073"/><stop offset="0.19" stop-color="#a60059"/><stop offset="0.25" stop-color="#b80047"/><stop offset="0.3" stop-color="#c70038"/><stop offset="0.41" stop-color="#db0024"/><stop offset="0.52" stop-color="#e5001a"/><stop offset="0.64" stop-color="#ed0012"/><stop offset="0.83" stop-color="#f70008"/><stop offset="1" stop-color="#fd0002"/></linearGradient>
<linearGradient id="hg61" gradientUnits="userSpaceOnUse" x1="1016.28" y1="0" x2="1576.5" y2="0"><stop offset="0" stop-color="#ffffff"/><stop offset="0.01" stop-color="#8c8cff"/><stop offset="0.02" stop-color="#0d0dff"/><stop offset="0.02" stop-color="#0f00f0"/><stop offset="0.06" stop-color="#4700b8"/><stop offset="0.11" stop-color="#73008c"/><stop offset="0.15" stop-color="#8c0073"/><stop offset="0.2" stop-color="#a60059"/><stop offset="0.25" stop-color="#b80047"/><stop offset="0.3" stop-color="#c70038"/><stop offset="0.42" stop-color="#db0024"/><stop offset="0.53" stop-color="#e5001a"/><stop offset="0.64" stop-color="#ed0012"/><stop offset="0.84" stop-color="#f70008"/><stop offset="1" stop-color="#fc0003"/></linearGradient>
<linearGradient id="hg62" gradientUnits="userSpaceOnUse" x1="1017.42" y1="0" x2="1576.5" y2="0"><stop offset="0" stop-color="#ffffff"/><stop offset="0.01" stop-color="#8c8cff"/><stop offset="0.02" stop-color="#0d0dff"/><stop offset="0.02" stop-color="#0f00f0"/><stop offset="0.06" stop-color="#4700b8"/><stop offset="0.11" stop-color="#73008c"/><stop offset="0.15" stop-color="#8c0073"/><stop offset="0.2" stop-color="#a60059"/><stop offset="0.25" stop-color="#b80047"/><stop offset="0.3" stop-color="#c70038"/><stop offset="0.42" stop-color="#db0024"/><stop offset="0.54" stop-color="#e5001a"/><stop offset="0.65" stop-color="#ed0012"/><stop offset="0.86" stop-color="#f70008"/><stop offset="1" stop-color="#fc0003"/></linearGradient>
<linearGradient id="hg63" gradientUnits="userSpaceOnUse" x1="1019.02" y1="0" x2="1576.5" y2="0"><stop offset="0" stop-color="#ffffff"/><stop offset="0.01" stop-color="#8c8cff"/><stop offset="0.02" stop-color="#0d0dff"/><stop offset="0.02" stop-color="#0f00f0"/><stop offset="0.06" stop-color="#4700b8"/><stop offset="0.11" stop-color="#73008c"/><stop offset="0.15" stop-color="#8c0073"/><stop offset="0.2" stop-color="#a60059"/><stop offset="0.25" stop-color="#b80047"/><stop offset="0.31" stop-color="#c70038"/><stop offset="0.43" stop-color="#db0024"/><stop offset="0.54" stop-color="#e5001a"/><stop offset="0.66" stop-color="#ed0012"/><stop offset="0.87" stop-color="#f70008"/><stop offset="1" stop-color="#fb0004"/></linearGradient>
<linearGradient id="hg64" gradientUnits="userSpaceOnUse" x1="1021.22" y1="0" x2="1576.5" y2="0"><stop offset="0" stop-color="#ffffff"/><stop offset="0.01" stop-color="#8c8cff"/><stop offset="0.02" stop-color="#0d0dff"/><stop offset="0.02" stop-color="#0f00f0"/><stop offset="0.06" stop-color="#4700b8"/><stop offset="0.11" stop-color="#73008c"/><stop offset="0.16" stop-color="#8c0073"/><stop offset="0.2" stop-color="#a60059"/><stop offset="0.26" stop-color="#b80047"/><stop offset="0.31" stop-color="#c70038"/><stop offset="0.43" stop-color="#db0024"/><stop offset="0.55" stop-color="#e5001a"/><stop offset="0.67" stop-color="#ed0012"/><stop offset="0.88" stop-color="#f70008"/><stop offset="1" stop-color="#fb0004"/></linearGradient>
<linearGradient id="hg65" gradientUnits="userSpaceOnUse" x1="1023.7" y1="0" x2="1576.5" y2="0"><stop offset="0" stop-color="#ffffff"/><stop offset="0.01" stop-color="#8c8cff"/><stop offset="0.02" stop-color="#0d0dff"/><stop offset="0.02" stop-color="#0f00f0"/><stop offset="0.07" stop-color="#4700b8"/><stop offset="0.11" stop-color="#73008c"/><stop offset="0.16" stop-color="#8c0073"/><stop offset="0.21" stop-color="#a60059"/><stop offset="0.26" stop-color="#b80047"/><stop offset="0.32" stop-color="#c70038"/><stop offset="0.44" stop-color="#db0024"/><stop offset="0.56" stop-color="#e5001a"/><stop offset="0.68" stop-color="#ed0012"/><stop offset="0.89" stop-color="#f70008"/><stop offset="1" stop-color="#fb0004"/></linearGradient>
<linearGradient id="hg66" gradientUnits="userSpaceOnUse" x1="1026.03" y1="0" x2="1576.5" y2="0"><stop offset="0" stop-color="#ffffff"/><stop offset="0.01" stop-color="#8c8cff"/><stop offset="0.02" stop-color="#0d0dff"/><stop offset="0.02" stop-color="#0f00f0"/><stop offset="0.07" stop-color="#4700b8"/><stop offset="0.12" stop-color="#73008c"/><stop offset="0.16" stop-color="#8c0073"/><stop offset="0.21" stop-color="#a60059"/><stop offset="0.27" stop-color="#b80047"/><stop offset="0.32" stop-color="#c70038"/><stop offset="0.45" stop-color="#db0024"/><stop offset="0.57" stop-color="#e5001a"/><stop offset="0.69" stop-color="#ed0012"/><stop offset="0.9" stop-color="#f70008"/><stop offset="1" stop-color="#fa0005"/></linearGradient>
<linearGradient id="hg67" gradientUnits="userSpaceOnUse" x1="1028.12" y1="0" x2="1576.5" y2="0"><stop offset="0" stop-color="#ffffff"/><stop offset="0.01" stop-color="#8c8cff"/><stop offset="0.02" stop-color="#0d0dff"/><stop offset="0.03" stop-color="#0f00f0"/><stop offset="0.07" stop-color="#4700b8"/><stop offset="0.12" stop-color="#73008c"/><stop offset="0.16" stop-color="#8c0073"/><stop offset="0.21" stop-color="#a60059"/><stop offset="0.27" stop-color="#b80047"/><stop offset="0.33" stop-color="#c70038"/><stop offset="0.45" stop-color="#db0024"/><stop offset="0.58" stop-color="#e5001a"/><stop offset="0.7" stop-color="#ed0012"/><stop offset="0.92" stop-color="#f70008"/><stop offset="1" stop-color="#fa0005"/></linearGradient>
<linearGradient id="hg68" gradientUnits="userSpaceOnUse" x1="1030.17" y1="0" x2="1576.5" y2="0"><stop offset="0" stop-color="#ffffff"/><stop offset="0.01" stop-color="#8c8cff"/><stop offset="0.02" stop-color="#0d0dff"/><stop offset="0.03" stop-color="#0f00f0"/><stop offset="0.07" stop-color="#4700b8"/><stop offset="0.12" stop-color="#73008c"/><stop offset="0.17" stop-color="#8c0073"/><stop offset="0.21" stop-color="#a60059"/><stop offset="0.27" stop-color="#b80047"/><stop offset="0.33" stop-color="#c70038"/><stop offset="0.46" stop-color="#db0024"/><stop offset="0.58" stop-color="#e5001a"/><stop offset="0.71" stop-color="#ed0012"/><stop offset="0.93" stop-color="#f70008"/><stop offset="1" stop-color="#f90006"/></linearGradient>
<linearGradient id="hg69" gradientUnits="userSpaceOnUse" x1="1032.37" y1="0" x2="1576.5" y2="0"><stop offset="0" stop-color="#ffffff"/><stop offset="0.01" stop-color="#8c8cff"/><stop offset="0.02" stop-color="#0d0dff"/><stop offset="0.03" stop-color="#0f00f0"/><stop offset="0.07" stop-color="#4700b8"/><stop offset="0.12" stop-color="#73008c"/><stop offset="0.17" stop-color="#8c0073"/><stop offset="0.22" stop-color="#a60059"/><stop offset="0.28" stop-color="#b80047"/><stop offset="0.33" stop-color="#c70038"/><stop offset="0.46" stop-color="#db0024"/><stop offset="0.59" stop-color="#e5001a"/><stop offset="0.72" stop-color="#ed0012"/><stop offset="0.94" stop-color="#f70008"/><stop offset="1" stop-color="#f90006"/></linearGradient>
<linearGradient id="hg70" gradientUnits="userSpaceOnUse" x1="1035" y1="0" x2="1576.5" y2="0"><stop offset="0" stop-color="#ffffff"/><stop offset="0.01" stop-color="#8c8cff"/><stop offset="0.02" stop-color="#0d0dff"/><stop offset="0.03" stop-color="#0f00f0"/><stop offset="0.07" stop-color="#4700b8"/><stop offset="0.12" stop-color="#73008c"/><stop offset="0.17" stop-color="#8c0073"/><stop offset="0.22" stop-color="#a60059"/><stop offset="0.28" stop-color="#b80047"/><stop offset="0.34" stop-color="#c70038"/><stop offset="0.47" stop-color="#db0024"/><stop offset="0.6" stop-color="#e5001a"/><stop offset="0.73" stop-color="#ed0012"/><stop offset="0.96" stop-color="#f70008"/><stop offset="1" stop-color="#f90006"/></linearGradient>
<linearGradient id="hg71" gradientUnits="userSpaceOnUse" x1="1038.14" y1="0" x2="1576.5" y2="0"><stop offset="0" stop-color="#ffffff"/><stop offset="0.01" stop-color="#8c8cff"/><stop offset="0.02" stop-color="#0d0dff"/><stop offset="0.03" stop-color="#0f00f0"/><stop offset="0.07" stop-color="#4700b8"/><stop offset="0.12" stop-color="#73008c"/><stop offset="0.17" stop-color="#8c0073"/><stop offset="0.22" stop-color="#a60059"/><stop offset="0.28" stop-color="#b80047"/><stop offset="0.34" stop-color="#c70038"/><stop offset="0.48" stop-color="#db0024"/><stop offset="0.61" stop-color="#e5001a"/><stop offset="0.74" stop-color="#ed0012"/><stop offset="0.97" stop-color="#f70008"/><stop offset="1" stop-color="#f80007"/></linearGradient>
<linearGradient id="hg72" gradientUnits="userSpaceOnUse" x1="1041.41" y1="0" x2="1576.5" y2="0"><stop offset="0" stop-color="#ffffff"/><stop offset="0.01" stop-color="#8c8cff"/><stop offset="0.02" stop-color="#0d0dff"/><stop offset="0.03" stop-color="#0f00f0"/><stop offset="0.07" stop-color="#4700b8"/><stop offset="0.13" stop-color="#73008c"/><stop offset="0.18" stop-color="#8c0073"/><stop offset="0.23" stop-color="#a60059"/><stop offset="0.29" stop-color="#b80047"/><stop offset="0.35" stop-color="#c70038"/><stop offset="0.49" stop-color="#db0024"/><stop offset="0.62" stop-color="#e5001a"/><stop offset="0.75" stop-color="#ed0012"/><stop offset="0.99" stop-color="#f70008"/><stop offset="1" stop-color="#f80007"/></linearGradient>
<linearGradient id="hg73" gradientUnits="userSpaceOnUse" x1="1044.84" y1="0" x2="1576.5" y2="0"><stop offset="0" stop-color="#ffffff"/><stop offset="0.01" stop-color="#8c8cff"/><stop offset="0.02" stop-color="#0d0dff"/><stop offset="0.03" stop-color="#0f00f0"/><stop offset="0.07" stop-color="#4700b8"/><stop offset="0.13" stop-color="#73008c"/><stop offset="0.18" stop-color="#8c0073"/><stop offset="0.23" stop-color="#a60059"/><stop offset="0.29" stop-color="#b80047"/><stop offset="0.35" stop-color="#c70038"/><stop offset="0.49" stop-color="#db0024"/><stop offset="0.63" stop-color="#e5001a"/><stop offset="0.76" stop-color="#ed0012"/><stop offset="1" stop-color="#f70008"/></linearGradient>
<linearGradient id="hg74" gradientUnits="userSpaceOnUse" x1="1048.36" y1="0" x2="1576.5" y2="0"><stop offset="0" stop-color="#ffffff"/><stop offset="0.01" stop-color="#8c8cff"/><stop offset="0.02" stop-color="#0d0dff"/><stop offset="0.03" stop-color="#0f00f0"/><stop offset="0.07" stop-color="#4700b8"/><stop offset="0.13" stop-color="#73008c"/><stop offset="0.18" stop-color="#8c0073"/><stop offset="0.23" stop-color="#a60059"/><stop offset="0.3" stop-color="#b80047"/><stop offset="0.36" stop-color="#c70038"/><stop offset="0.5" stop-color="#db0024"/><stop offset="0.64" stop-color="#e5001a"/><stop offset="0.77" stop-color="#ed0012"/><stop offset="1" stop-color="#f70008"/></linearGradient>
<linearGradient id="hg75" gradientUnits="userSpaceOnUse" x1="1052" y1="0" x2="1576.5" y2="0"><stop offset="0" stop-color="#ffffff"/><stop offset="0.01" stop-color="#8c8cff"/><stop offset="0.02" stop-color="#0d0dff"/><stop offset="0.03" stop-color="#0f00f0"/><stop offset="0.07" stop-color="#4700b8"/><stop offset="0.13" stop-color="#73008c"/><stop offset="0.18" stop-color="#8c0073"/><stop offset="0.24" stop-color="#a60059"/><stop offset="0.3" stop-color="#b80047"/><stop offset="0.37" stop-color="#c70038"/><stop offset="0.51" stop-color="#db0024"/><stop offset="0.65" stop-color="#e5001a"/><stop offset="0.79" stop-color="#ed0012"/><stop offset="1" stop-color="#f60009"/></linearGradient>
<linearGradient id="hg76" gradientUnits="userSpaceOnUse" x1="1054.74" y1="0" x2="1576.5" y2="0"><stop offset="0" stop-color="#ffffff"/><stop offset="0.01" stop-color="#8c8cff"/><stop offset="0.02" stop-color="#0d0dff"/><stop offset="0.03" stop-color="#0f00f0"/><stop offset="0.08" stop-color="#4700b8"/><stop offset="0.13" stop-color="#73008c"/><stop offset="0.19" stop-color="#8c0073"/><stop offset="0.24" stop-color="#a60059"/><stop offset="0.31" stop-color="#b80047"/><stop offset="0.37" stop-color="#c70038"/><stop offset="0.52" stop-color="#db0024"/><stop offset="0.66" stop-color="#e5001a"/><stop offset="0.8" stop-color="#ed0012"/><stop offset="1" stop-color="#f5000a"/></linearGradient>
<clipPath id="hclip"><path d="M1021 46.6L1577.5 46.6L1577.5 662L1065.1 662L1065.1 660.5L1064.13 658.38L1062.78 655.46L1061.18 652L1059.47 648.26L1057.76 644.5L1056.2 641L1054.73 637.66L1053.25 634.24L1051.78 630.82L1050.34 627.43L1048.97 624.14L1047.7 621L1046.55 618.15L1045.52 615.58L1044.56 613.1L1043.61 610.53L1042.64 607.69L1041.6 604.4L1040.49 600.55L1039.34 596.26L1038.16 591.7L1036.97 587.03L1035.78 582.41L1034.6 578L1033.38 573.79L1032.1 569.66L1030.82 565.58L1029.59 561.52L1028.46 557.47L1027.5 553.4L1026.7 549.28L1026.02 545.13L1025.44 540.97L1024.96 536.87L1024.55 532.87L1024.2 529L1023.93 525.27L1023.76 521.64L1023.66 518.1L1023.62 514.65L1023.61 511.29L1023.6 508L1023.61 504.82L1023.64 501.75L1023.71 498.77L1023.8 495.84L1023.93 492.92L1024.1 490L1024.33 486.88L1024.64 483.54L1024.98 480.23L1025.31 477.16L1025.6 474.57L1025.8 472.7L1021 472.7Z"/></clipPath>
<filter id="vb" x="-2%" y="-6%" width="104%" height="112%"><feGaussianBlur stdDeviation="0 5"/></filter>
<linearGradient id="cb" x1="0" y1="1" x2="0" y2="0"><stop offset="0" stop-color="#fff"/><stop offset="0.495" stop-color="#0000ff"/><stop offset="1" stop-color="#ff0000"/></linearGradient></defs>
<rect width="1772" height="1139" fill="#fff"/>
<g id="panelA">
<path d="M210.7 49.4L210.69 56.97L210.67 67.36L210.66 79.7L210.63 93.16L210.58 106.87L210.5 120L210.4 133.19L210.27 147.27L210.12 161.6L209.96 175.58L209.78 188.58L209.6 200L209.41 209.53L209.21 217.59L209.01 224.69L208.79 231.3L208.55 237.91L208.3 245L208.02 252.73L207.71 260.74L207.38 268.75L207.06 276.48L206.76 283.66L206.5 290L206.28 295.06L206.1 298.96L205.94 302.31L205.79 305.7L205.65 309.73L205.5 315L205.36 321.68L205.22 329.33L205.09 337.62L204.96 346.22L204.83 354.79L204.7 363L204.56 371.09L204.41 379.37L204.27 387.62L204.13 395.63L204 403.16L203.9 410L203.81 415.95L203.71 421.16L203.64 425.89L203.59 430.43L203.57 435.04L203.6 440L203.7 445.67L203.87 451.91L204.08 458.22L204.29 464.12L204.48 469.11L204.6 472.7L205.34 471.61L206.35 470.09L207.55 468.29L208.87 466.39L210.25 464.57L211.6 463L212.94 461.63L214.34 460.32L215.78 459.08L217.27 457.94L218.81 456.9L220.4 456L222.07 455.23L223.84 454.57L225.65 454.02L227.46 453.58L229.23 453.24L230.9 453L232.49 452.86L234.03 452.83L235.52 452.91L236.96 453.08L238.36 453.34L239.7 453.7L240.95 454.14L242.1 454.67L243.2 455.3L244.3 456.03L245.45 456.86L246.7 457.8L248.02 458.83L249.37 459.93L250.77 461.13L252.24 462.47L253.81 463.99L255.5 465.7L257.37 467.72L259.41 470.04L261.54 472.54L263.7 475.07L265.81 477.5L267.8 479.7L269.65 481.68L271.43 483.56L273.16 485.33L274.86 487.02L276.57 488.64L278.3 490.2L280.06 491.7L281.83 493.14L283.6 494.51L285.37 495.79L287.14 496.99L288.9 498.1L290.62 499.1L292.28 500L293.94 500.82L295.64 501.56L297.45 502.25L299.4 502.9L301.51 503.52L303.74 504.09L306.06 504.61L308.46 505.06L310.92 505.43L313.4 505.7L315.92 505.86L318.5 505.91L321.13 505.88L323.81 505.78L326.54 505.65L329.3 505.5L332.12 505.32L335.01 505.09L337.94 504.82L340.9 504.53L343.86 504.22L346.8 503.9L349.75 503.57L352.73 503.21L355.72 502.84L358.68 502.46L361.58 502.08L364.4 501.7L366.6 501.37L368.1 501.09L369.55 500.81L371.59 500.47L374.85 500.02L380 499.4L387.43 498.58L396.71 497.61L407.23 496.52L418.36 495.37L429.49 494.18L440 493L450.13 491.8L460.4 490.55L470.68 489.27L480.8 487.98L490.62 486.72L500 485.5L508.83 484.34L517.2 483.21L525.28 482.11L533.2 481.01L541.13 479.91L549.2 478.8L557.4 477.68L565.6 476.56L573.81 475.44L582.01 474.31L590.21 473.17L598.4 472L606.59 470.8L614.77 469.58L622.95 468.34L631.13 467.09L639.31 465.84L647.5 464.6L655.59 463.38L663.56 462.18L671.52 460.97L679.62 459.76L687.97 458.5L696.7 457.2L706.56 455.74L717.62 454.1L728.92 452.44L739.55 450.87L748.55 449.55L755 448.6L755 49.4Z" fill="#5bab63"/>
<path d="M210.7 49.4L210.69 56.97L210.67 67.36L210.66 79.7L210.63 93.16L210.58 106.87L210.5 120L210.4 133.19L210.27 147.27L210.12 161.6L209.96 175.58L209.78 188.58L209.6 200L209.41 209.53L209.21 217.59L209.01 224.69L208.79 231.3L208.55 237.91L208.3 245L208.52 243.36L208.81 241.09L209.16 238.4L209.54 235.51L209.93 232.64L210.3 230L210.65 227.6L211 225.27L211.36 222.96L211.73 220.61L212.11 218.18L212.5 215.6L212.89 212.85L213.27 209.97L213.66 206.99L214.09 203.98L214.56 200.96L215.1 198L215.7 195.08L216.36 192.16L217.06 189.25L217.81 186.34L218.62 183.42L219.5 180.5L220.44 177.57L221.44 174.64L222.5 171.7L223.61 168.76L224.78 165.83L226 162.9L227.24 159.98L228.51 157.06L229.84 154.15L231.24 151.24L232.75 148.32L234.4 145.4L236.18 142.45L238.08 139.47L240.09 136.49L242.2 133.54L244.4 130.63L246.7 127.8L249.05 125.06L251.44 122.4L253.94 119.79L256.58 117.2L259.42 114.61L262.5 112L265.87 109.3L269.48 106.51L273.29 103.72L277.25 101.01L281.3 98.48L285.4 96.2L289.59 94.2L293.91 92.41L298.34 90.8L302.81 89.31L307.28 87.89L311.7 86.5L316.08 85.16L320.46 83.9L324.84 82.72L329.23 81.61L333.61 80.54L338 79.5L342.52 78.48L347.19 77.49L351.87 76.55L356.4 75.67L360.62 74.88L364.4 74.2L367.58 73.66L370.25 73.25L372.62 72.93L374.9 72.65L377.29 72.36L380 72L382.9 71.6L385.79 71.19L388.79 70.77L392.03 70.33L395.62 69.87L399.69 69.37L404.35 68.83L409.55 68.24L415.1 67.63L420.83 67.01L426.56 66.42L432.11 65.88L437.51 65.39L442.92 64.92L448.32 64.48L453.73 64.06L459.13 63.65L464.53 63.26L469.94 62.89L475.34 62.53L480.75 62.19L486.15 61.86L491.55 61.54L496.96 61.24L502.36 60.94L507.77 60.66L513.17 60.39L518.57 60.13L523.98 59.88L529.38 59.63L534.79 59.4L540.19 59.17L545.59 58.95L551 58.74L556.4 58.54L561.81 58.34L567.21 58.15L572.61 57.96L578.02 57.78L583.42 57.61L588.83 57.44L594.23 57.27L599.63 57.12L605.04 56.96L610.44 56.81L615.85 56.67L621.25 56.53L626.65 56.39L632.06 56.25L637.46 56.12L642.87 56L648.27 55.88L653.67 55.76L659.08 55.64L664.48 55.53L669.89 55.41L675.29 55.31L680.69 55.2L686.1 55.1L691.5 55L696.92 54.9L702.36 54.81L707.8 54.71L713.22 54.62L718.6 54.54L723.93 54.45L729.54 54.36L735.53 54.27L741.49 54.19L746.99 54.11L751.63 54.04L755 53.99L755 49.4Z" fill="#2f6ca3"/>
<path d="M204.6 472.7L205.34 471.61L206.35 470.09L207.55 468.29L208.87 466.39L210.25 464.57L211.6 463L212.94 461.63L214.34 460.32L215.78 459.08L217.27 457.94L218.81 456.9L220.4 456L222.07 455.23L223.84 454.57L225.65 454.02L227.46 453.58L229.23 453.24L230.9 453L232.49 452.86L234.03 452.83L235.52 452.91L236.96 453.08L238.36 453.34L239.7 453.7L240.95 454.14L242.1 454.67L243.2 455.3L244.3 456.03L245.45 456.86L246.7 457.8L248.02 458.83L249.37 459.93L250.77 461.13L252.24 462.47L253.81 463.99L255.5 465.7L257.37 467.72L259.41 470.04L261.54 472.54L263.7 475.07L265.81 477.5L267.8 479.7L269.65 481.68L271.43 483.56L273.16 485.33L274.86 487.02L276.57 488.64L278.3 490.2L280.06 491.7L281.83 493.14L283.6 494.51L285.37 495.79L287.14 496.99L288.9 498.1L290.62 499.1L292.28 500L293.94 500.82L295.64 501.56L297.45 502.25L299.4 502.9L301.51 503.52L303.74 504.09L306.06 504.61L308.46 505.06L310.92 505.43L313.4 505.7L315.92 505.86L318.5 505.91L321.13 505.88L323.81 505.78L326.54 505.65L329.3 505.5L332.12 505.32L335.01 505.09L337.94 504.82L340.9 504.53L343.86 504.22L346.8 503.9L349.75 503.57L352.73 503.21L355.72 502.84L358.68 502.46L361.58 502.08L364.4 501.7L366.6 501.37L368.1 501.09L369.55 500.81L371.59 500.47L374.85 500.02L380 499.4L387.43 498.58L396.71 497.61L407.23 496.52L418.36 495.37L429.49 494.18L440 493L450.13 491.8L460.4 490.55L470.68 489.27L480.8 487.98L490.62 486.72L500 485.5L508.83 484.34L517.2 483.21L525.28 482.11L533.2 481.01L541.13 479.91L549.2 478.8L557.4 477.68L565.6 476.56L573.81 475.44L582.01 474.31L590.21 473.17L598.4 472L606.59 470.8L614.77 469.58L622.95 468.34L631.13 467.09L639.31 465.84L647.5 464.6L655.59 463.38L663.56 462.18L671.52 460.97L679.62 459.76L687.97 458.5L696.7 457.2L706.56 455.74L717.62 454.1L728.92 452.44L739.55 450.87L748.55 449.55L755 448.6L755 661L243.9 661L242.93 658.38L241.58 655.46L239.98 652L238.27 648.26L236.56 644.5L235 641L233.53 637.66L232.05 634.24L230.57 630.82L229.14 627.43L227.77 624.14L226.5 621L225.35 618.15L224.32 615.58L223.36 613.1L222.41 610.53L221.44 607.69L220.4 604.4L219.29 600.55L218.14 596.26L216.96 591.7L215.77 587.03L214.58 582.41L213.4 578L212.18 573.79L210.9 569.66L209.62 565.58L208.39 561.52L207.26 557.47L206.3 553.4L205.5 549.28L204.82 545.13L204.24 540.97L203.76 536.87L203.35 532.87L203 529L202.73 525.27L202.56 521.64L202.46 518.1L202.42 514.65L202.41 511.29L202.4 508L202.41 504.82L202.44 501.75L202.51 498.77L202.6 495.84L202.73 492.92L202.9 490L203.13 486.88L203.44 483.54L203.78 480.23L204.11 477.16L204.4 474.57L204.6 472.7Z" fill="#ff9900"/>
<path d="M513 660.5L513.52 660.1L514.2 659.58L515 658.97L515.91 658.28L516.88 657.52L517.91 656.71L518.96 655.87L520 655L521.03 654.19L522.08 653.46L523.15 652.74L524.26 651.94L525.44 650.99L526.69 649.82L528.04 648.35L529.5 646.5L531.08 644.24L532.77 641.62L534.56 638.71L536.42 635.57L538.34 632.26L540.31 628.86L542.3 625.42L544.3 622L546.34 618.53L548.43 614.9L550.57 611.16L552.75 607.36L554.94 603.53L557.14 599.74L559.33 596.01L561.5 592.4L563.63 588.87L565.74 585.35L567.84 581.87L569.94 578.43L572.07 575.05L574.22 571.74L576.43 568.52L578.7 565.4L581.01 562.38L583.34 559.45L585.69 556.6L588.09 553.82L590.55 551.11L593.08 548.46L595.69 545.86L598.4 543.3L601.23 540.76L604.19 538.22L607.23 535.72L610.34 533.28L613.49 530.94L616.66 528.73L619.8 526.67L622.9 524.8L625.97 523.14L629.04 521.68L632.12 520.38L635.19 519.21L638.27 518.12L641.35 517.08L644.42 516.05L647.5 515L650.58 513.95L653.65 512.95L656.73 511.99L659.8 511.07L662.88 510.17L665.95 509.3L669.03 508.45L672.1 507.6L675.18 506.77L678.25 505.96L681.33 505.16L684.4 504.39L687.48 503.64L690.55 502.91L693.62 502.2L696.7 501.5L699.71 500.83L702.64 500.18L705.53 499.56L708.43 498.95L711.41 498.36L714.51 497.77L717.79 497.19L721.3 496.6L725.31 495.99L729.88 495.34L734.75 494.69L739.69 494.04L744.43 493.44L748.73 492.9L752.34 492.44L755 492.1L755 661L513 661Z" fill="url(#hA)"/>
<path d="M243 661.9H755" stroke="#000" stroke-width="1.6"/>
<path d="M244.5 659.4H755" stroke="#d7213a" stroke-width="4.4"/>
<g fill="none" stroke="#000" stroke-width="2.8" stroke-linejoin="round">
<path d="M210.7 49.4L210.69 56.97L210.67 67.36L210.66 79.7L210.63 93.16L210.58 106.87L210.5 120L210.4 133.19L210.27 147.27L210.12 161.6L209.96 175.58L209.78 188.58L209.6 200L209.41 209.53L209.21 217.59L209.01 224.69L208.79 231.3L208.55 237.91L208.3 245L208.02 252.73L207.71 260.74L207.38 268.75L207.06 276.48L206.76 283.66L206.5 290L206.28 295.06L206.1 298.96L205.94 302.31L205.79 305.7L205.65 309.73L205.5 315L205.36 321.68L205.22 329.33L205.09 337.62L204.96 346.22L204.83 354.79L204.7 363L204.56 371.09L204.41 379.37L204.27 387.62L204.13 395.63L204 403.16L203.9 410L203.81 415.95L203.71 421.16L203.64 425.89L203.59 430.43L203.57 435.04L203.6 440L203.7 445.67L203.87 451.91L204.08 458.22L204.29 464.12L204.48 469.11L204.6 472.7L204.4 474.57L204.11 477.16L203.78 480.23L203.44 483.54L203.13 486.88L202.9 490L202.73 492.92L202.6 495.84L202.51 498.77L202.44 501.75L202.41 504.82L202.4 508L202.41 511.29L202.42 514.65L202.46 518.1L202.56 521.64L202.73 525.27L203 529L203.35 532.87L203.76 536.87L204.24 540.97L204.82 545.13L205.5 549.28L206.3 553.4L207.26 557.47L208.39 561.52L209.62 565.58L210.9 569.66L212.18 573.79L213.4 578L214.58 582.41L215.77 587.03L216.96 591.7L218.14 596.26L219.29 600.55L220.4 604.4L221.44 607.69L222.41 610.53L223.36 613.1L224.32 615.58L225.35 618.15L226.5 621L227.77 624.14L229.14 627.43L230.57 630.82L232.05 634.24L233.53 637.66L235 641L236.56 644.5L238.27 648.26L239.98 652L241.58 655.46L242.93 658.38L243.9 660.5L246 662"/>
<path d="M208.3 245L208.52 243.36L208.81 241.09L209.16 238.4L209.54 235.51L209.93 232.64L210.3 230L210.65 227.6L211 225.27L211.36 222.96L211.73 220.61L212.11 218.18L212.5 215.6L212.89 212.85L213.27 209.97L213.66 206.99L214.09 203.98L214.56 200.96L215.1 198L215.7 195.08L216.36 192.16L217.06 189.25L217.81 186.34L218.62 183.42L219.5 180.5L220.44 177.57L221.44 174.64L222.5 171.7L223.61 168.76L224.78 165.83L226 162.9L227.24 159.98L228.51 157.06L229.84 154.15L231.24 151.24L232.75 148.32L234.4 145.4L236.18 142.45L238.08 139.47L240.09 136.49L242.2 133.54L244.4 130.63L246.7 127.8L249.05 125.06L251.44 122.4L253.94 119.79L256.58 117.2L259.42 114.61L262.5 112L265.87 109.3L269.48 106.51L273.29 103.72L277.25 101.01L281.3 98.48L285.4 96.2L289.59 94.2L293.91 92.41L298.34 90.8L302.81 89.31L307.28 87.89L311.7 86.5L316.08 85.16L320.46 83.9L324.84 82.72L329.23 81.61L333.61 80.54L338 79.5L342.52 78.48L347.19 77.49L351.87 76.55L356.4 75.67L360.62 74.88L364.4 74.2L367.58 73.66L370.25 73.25L372.62 72.93L374.9 72.65L377.29 72.36L380 72L382.9 71.6L385.79 71.19L388.79 70.77L392.03 70.33L395.62 69.87L399.69 69.37L404.35 68.83L409.55 68.24L415.1 67.63L420.83 67.01L426.56 66.42L432.11 65.88L437.51 65.39L442.92 64.92L448.32 64.48L453.73 64.06L459.13 63.65L464.53 63.26L469.94 62.89L475.34 62.53L480.75 62.19L486.15 61.86L491.55 61.54L496.96 61.24L502.36 60.94L507.77 60.66L513.17 60.39L518.57 60.13L523.98 59.88L529.38 59.63L534.79 59.4L540.19 59.17L545.59 58.95L551 58.74L556.4 58.54L561.81 58.34L567.21 58.15L572.61 57.96L578.02 57.78L583.42 57.61L588.83 57.44L594.23 57.27L599.63 57.12L605.04 56.96L610.44 56.81L615.85 56.67L621.25 56.53L626.65 56.39L632.06 56.25L637.46 56.12L642.87 56L648.27 55.88L653.67 55.76L659.08 55.64L664.48 55.53L669.89 55.41L675.29 55.31L680.69 55.2L686.1 55.1L691.5 55L696.92 54.9L702.36 54.81L707.8 54.71L713.22 54.62L718.6 54.54L723.93 54.45L729.54 54.36L735.53 54.27L741.49 54.19L746.99 54.11L751.63 54.04L755 53.99"/>
<path d="M204.6 472.7L205.34 471.61L206.35 470.09L207.55 468.29L208.87 466.39L210.25 464.57L211.6 463L212.94 461.63L214.34 460.32L215.78 459.08L217.27 457.94L218.81 456.9L220.4 456L222.07 455.23L223.84 454.57L225.65 454.02L227.46 453.58L229.23 453.24L230.9 453L232.49 452.86L234.03 452.83L235.52 452.91L236.96 453.08L238.36 453.34L239.7 453.7L240.95 454.14L242.1 454.67L243.2 455.3L244.3 456.03L245.45 456.86L246.7 457.8L248.02 458.83L249.37 459.93L250.77 461.13L252.24 462.47L253.81 463.99L255.5 465.7L257.37 467.72L259.41 470.04L261.54 472.54L263.7 475.07L265.81 477.5L267.8 479.7L269.65 481.68L271.43 483.56L273.16 485.33L274.86 487.02L276.57 488.64L278.3 490.2L280.06 491.7L281.83 493.14L283.6 494.51L285.37 495.79L287.14 496.99L288.9 498.1L290.62 499.1L292.28 500L293.94 500.82L295.64 501.56L297.45 502.25L299.4 502.9L301.51 503.52L303.74 504.09L306.06 504.61L308.46 505.06L310.92 505.43L313.4 505.7L315.92 505.86L318.5 505.91L321.13 505.88L323.81 505.78L326.54 505.65L329.3 505.5L332.12 505.32L335.01 505.09L337.94 504.82L340.9 504.53L343.86 504.22L346.8 503.9L349.75 503.57L352.73 503.21L355.72 502.84L358.68 502.46L361.58 502.08L364.4 501.7L366.6 501.37L368.1 501.09L369.55 500.81L371.59 500.47L374.85 500.02L380 499.4L387.43 498.58L396.71 497.61L407.23 496.52L418.36 495.37L429.49 494.18L440 493L450.13 491.8L460.4 490.55L470.68 489.27L480.8 487.98L490.62 486.72L500 485.5L508.83 484.34L517.2 483.21L525.28 482.11L533.2 481.01L541.13 479.91L549.2 478.8L557.4 477.68L565.6 476.56L573.81 475.44L582.01 474.31L590.21 473.17L598.4 472L606.59 470.8L614.77 469.58L622.95 468.34L631.13 467.09L639.31 465.84L647.5 464.6L655.59 463.38L663.56 462.18L671.52 460.97L679.62 459.76L687.97 458.5L696.7 457.2L706.56 455.74L717.62 454.1L728.92 452.44L739.55 450.87L748.55 449.55L755 448.6" stroke-width="2.9"/>
</g>
<path d="M209 49.4H755" stroke="#000" stroke-width="3.2"/>
<path d="M210.7 48L210.67 60.5L210.63 73M210.56 98L210.53 110L210.47 122M210.16 147L210.01 159.25L209.86 171.5M209.55 196L209.04 213L208.45 230M207.93 244.5L207.2 264.25L206.47 284M205.47 311.6L205.25 324.8L205.02 338M204.56 364.5L204.26 377.75L203.95 391M203.3 418.5L202.98 432.25L202.72 446M202.37 472.5L202.19 486L202.01 499.5M201.93 526.3L201.9 539.65L201.87 553M201.8 580L201.78 593.4L201.77 606.8M201.73 633.8L201.72 647.1L201.7 660.4" fill="none" stroke="#000" stroke-width="6.8"/>
<path d="M755 53.99L751.63 54.04L746.99 54.11L741.49 54.19L735.53 54.27L729.54 54.36L723.93 54.45L718.6 54.54L713.22 54.62L707.8 54.71L702.36 54.81L696.92 54.9L691.5 55L686.1 55.1L680.69 55.2L675.29 55.31L669.89 55.41L664.48 55.53L659.08 55.64L653.67 55.76L648.27 55.88L642.87 56L637.46 56.12L632.06 56.25L626.65 56.39L621.25 56.53L615.85 56.67L610.44 56.81L605.04 56.96L599.63 57.12L594.23 57.27L588.83 57.44L583.42 57.61L578.02 57.78L572.61 57.96L567.21 58.15L561.81 58.34L556.4 58.54L551 58.74L545.59 58.95L540.19 59.17L534.79 59.4L529.38 59.63L523.98 59.88L518.57 60.13L513.17 60.39L507.77 60.66L502.36 60.94L496.96 61.24L491.55 61.54L486.15 61.86L480.75 62.19L475.34 62.53L469.94 62.89L464.53 63.26L459.13 63.65L453.73 64.06L448.32 64.48L442.92 64.92L437.51 65.39L432.11 65.88L426.56 66.42L420.83 67.01L415.1 67.63L409.55 68.24L404.35 68.83L399.69 69.37L395.62 69.87L392.03 70.33L388.79 70.77L385.79 71.19L382.9 71.6L380 72L377.29 72.36L374.9 72.65L372.62 72.93L370.25 73.25L367.58 73.66L364.4 74.2L360.62 74.88L356.4 75.67L351.87 76.55L347.19 77.49L342.52 78.48L338 79.5L333.61 80.54L329.23 81.61L324.84 82.72L320.46 83.9L316.08 85.16L311.7 86.5L307.28 87.89L302.81 89.31L298.34 90.8L293.91 92.41L289.59 94.2L285.4 96.2L281.3 98.48L277.25 101.01L273.29 103.72L269.48 106.51L265.87 109.3L262.5 112L259.42 114.61L256.58 117.2L253.94 119.79L251.44 122.4L249.05 125.06L246.7 127.8L244.4 130.63L242.2 133.54L240.09 136.49L238.08 139.47L236.18 142.45L234.4 145.4L232.75 148.32L231.24 151.24L229.84 154.15L228.51 157.06L227.24 159.98L226 162.9L224.78 165.83L223.61 168.76L222.5 171.7L221.44 174.64L220.44 177.57L219.5 180.5L218.62 183.42L217.81 186.34L217.06 189.25L216.36 192.16L215.7 195.08L215.1 198L214.56 200.96L214.09 203.98L213.66 206.99L213.27 209.97L212.89 212.85L212.5 215.6L212.11 218.18L211.73 220.61L211.36 222.96L211 225.27L210.65 227.6L210.3 230L209.93 232.64L209.54 235.51L209.16 238.4L208.81 241.09L208.52 243.36L208.3 245" fill="none" stroke="#000" stroke-width="6.6" stroke-dasharray="26.8 26.8" stroke-dashoffset="37.2"/>
<path d="M205.6 390L205.7 390.39L205.81 390.91L205.96 391.53L206.16 392.26L206.43 393.08L206.8 394L207.28 395L207.85 396.09L208.49 397.28L209.2 398.57L209.94 399.98L210.7 401.5L211.49 403.19L212.33 405.04L213.21 407.01L214.12 409.03L215.05 411.04L216 413L216.97 414.92L217.97 416.84L218.99 418.76L220.03 420.67L221.07 422.55L222.1 424.4L223.1 426.18L224.07 427.91L225.04 429.61L226.04 431.31L227.12 433.07L228.3 434.9L229.6 436.86L231.01 438.93L232.49 441.04L234 443.14L235.52 445.14L237 447L238.56 448.78L240.25 450.56L241.94 452.26L243.51 453.78L244.84 455.06L245.8 456" fill="none" stroke="#000" stroke-width="6.3" stroke-dasharray="6 6.3"/>
<text x="218.5" y="86.8" font-size="46">I+D</text>
<text x="474" y="299" font-size="46">D</text>
<text x="146.5" y="351.5" font-size="46">I</text>
<text x="343.5" y="595.5" font-size="46">D+S</text>
<text x="662" y="612.5" font-size="46">S</text>
<path d="M136 657h7.6 M769.1 657h-7.6" stroke="#111" stroke-width="1.9"/>
<path d="M136 626.57h4.6 M769.1 626.57h-4.6" stroke="#111" stroke-width="1.3"/>
<path d="M136 596.14h4.6 M769.1 596.14h-4.6" stroke="#111" stroke-width="1.3"/>
<path d="M136 565.71h4.6 M769.1 565.71h-4.6" stroke="#111" stroke-width="1.3"/>
<path d="M136 535.28h7.6 M769.1 535.28h-7.6" stroke="#111" stroke-width="1.9"/>
<path d="M136 504.85h4.6 M769.1 504.85h-4.6" stroke="#111" stroke-width="1.3"/>
<path d="M136 474.42h4.6 M769.1 474.42h-4.6" stroke="#111" stroke-width="1.3"/>
<path d="M136 443.99h4.6 M769.1 443.99h-4.6" stroke="#111" stroke-width="1.3"/>
<path d="M136 413.56h7.6 M769.1 413.56h-7.6" stroke="#111" stroke-width="1.9"/>
<path d="M136 383.13h4.6 M769.1 383.13h-4.6" stroke="#111" stroke-width="1.3"/>
<path d="M136 352.7h4.6 M769.1 352.7h-4.6" stroke="#111" stroke-width="1.3"/>
<path d="M136 322.27h4.6 M769.1 322.27h-4.6" stroke="#111" stroke-width="1.3"/>
<path d="M136 291.84h7.6 M769.1 291.84h-7.6" stroke="#111" stroke-width="1.9"/>
<path d="M136 261.41h4.6 M769.1 261.41h-4.6" stroke="#111" stroke-width="1.3"/>
<path d="M136 230.98h4.6 M769.1 230.98h-4.6" stroke="#111" stroke-width="1.3"/>
<path d="M136 200.55h4.6 M769.1 200.55h-4.6" stroke="#111" stroke-width="1.3"/>
<path d="M136 170.12h7.6 M769.1 170.12h-7.6" stroke="#111" stroke-width="1.9"/>
<path d="M136 139.69h4.6 M769.1 139.69h-4.6" stroke="#111" stroke-width="1.3"/>
<path d="M136 109.26h4.6 M769.1 109.26h-4.6" stroke="#111" stroke-width="1.3"/>
<path d="M136 78.83h4.6 M769.1 78.83h-4.6" stroke="#111" stroke-width="1.3"/>
<path d="M136 48.4h7.6 M769.1 48.4h-7.6" stroke="#111" stroke-width="1.9"/>
<path d="M148.4 37.2v7.2 M148.4 668.5v-7.2" stroke="#111" stroke-width="1.7"/>
<path d="M168.67 37.2v4.4 M168.67 668.5v-4.4" stroke="#111" stroke-width="1.2"/>
<path d="M188.93 37.2v4.4 M188.93 668.5v-4.4" stroke="#111" stroke-width="1.2"/>
<path d="M209.19 37.2v4.4 M209.19 668.5v-4.4" stroke="#111" stroke-width="1.2"/>
<path d="M229.46 37.2v7.2 M229.46 668.5v-7.2" stroke="#111" stroke-width="1.7"/>
<path d="M249.73 37.2v4.4 M249.73 668.5v-4.4" stroke="#111" stroke-width="1.2"/>
<path d="M269.99 37.2v4.4 M269.99 668.5v-4.4" stroke="#111" stroke-width="1.2"/>
<path d="M290.25 37.2v4.4 M290.25 668.5v-4.4" stroke="#111" stroke-width="1.2"/>
<path d="M310.52 37.2v7.2 M310.52 668.5v-7.2" stroke="#111" stroke-width="1.7"/>
<path d="M330.78 37.2v4.4 M330.78 668.5v-4.4" stroke="#111" stroke-width="1.2"/>
<path d="M351.05 37.2v4.4 M351.05 668.5v-4.4" stroke="#111" stroke-width="1.2"/>
<path d="M371.32 37.2v4.4 M371.32 668.5v-4.4" stroke="#111" stroke-width="1.2"/>
<path d="M391.58 37.2v7.2 M391.58 668.5v-7.2" stroke="#111" stroke-width="1.7"/>
<path d="M411.85 37.2v4.4 M411.85 668.5v-4.4" stroke="#111" stroke-width="1.2"/>
<path d="M432.11 37.2v4.4 M432.11 668.5v-4.4" stroke="#111" stroke-width="1.2"/>
<path d="M452.38 37.2v4.4 M452.38 668.5v-4.4" stroke="#111" stroke-width="1.2"/>
<path d="M472.64 37.2v7.2 M472.64 668.5v-7.2" stroke="#111" stroke-width="1.7"/>
<path d="M492.9 37.2v4.4 M492.9 668.5v-4.4" stroke="#111" stroke-width="1.2"/>
<path d="M513.17 37.2v4.4 M513.17 668.5v-4.4" stroke="#111" stroke-width="1.2"/>
<path d="M533.44 37.2v4.4 M533.44 668.5v-4.4" stroke="#111" stroke-width="1.2"/>
<path d="M553.7 37.2v7.2 M553.7 668.5v-7.2" stroke="#111" stroke-width="1.7"/>
<path d="M573.97 37.2v4.4 M573.97 668.5v-4.4" stroke="#111" stroke-width="1.2"/>
<path d="M594.23 37.2v4.4 M594.23 668.5v-4.4" stroke="#111" stroke-width="1.2"/>
<path d="M614.5 37.2v4.4 M614.5 668.5v-4.4" stroke="#111" stroke-width="1.2"/>
<path d="M634.76 37.2v7.2 M634.76 668.5v-7.2" stroke="#111" stroke-width="1.7"/>
<path d="M655.02 37.2v4.4 M655.02 668.5v-4.4" stroke="#111" stroke-width="1.2"/>
<path d="M675.29 37.2v4.4 M675.29 668.5v-4.4" stroke="#111" stroke-width="1.2"/>
<path d="M695.55 37.2v4.4 M695.55 668.5v-4.4" stroke="#111" stroke-width="1.2"/>
<path d="M715.82 37.2v7.2 M715.82 668.5v-7.2" stroke="#111" stroke-width="1.7"/>
<path d="M736.09 37.2v4.4 M736.09 668.5v-4.4" stroke="#111" stroke-width="1.2"/>
<path d="M756.35 37.2v4.4 M756.35 668.5v-4.4" stroke="#111" stroke-width="1.2"/>
<rect x="134.7" y="35.9" width="635.7" height="633.9" fill="none" stroke="#000" stroke-width="2.7"/>
<text transform="translate(121.5 669.7) scale(1.02 1)" text-anchor="end" font-size="31">0.0</text>
<text transform="translate(121.5 547.98) scale(1.02 1)" text-anchor="end" font-size="31">0.2</text>
<text transform="translate(121.5 426.26) scale(1.02 1)" text-anchor="end" font-size="31">0.4</text>
<text transform="translate(121.5 304.54) scale(1.02 1)" text-anchor="end" font-size="31">0.6</text>
<text transform="translate(121.5 182.82) scale(1.02 1)" text-anchor="end" font-size="31">0.8</text>
<text transform="translate(119 61.1) scale(1.02 1)" text-anchor="end" font-size="31">1.0</text>
<text transform="translate(144.4 703) scale(1.05 1)" text-anchor="middle" font-size="31">0</text>
<text transform="translate(225.9 703) scale(1.05 1)" text-anchor="middle" font-size="31">2</text>
<text transform="translate(307.4 703) scale(1.05 1)" text-anchor="middle" font-size="31">4</text>
<text transform="translate(388.9 703) scale(1.05 1)" text-anchor="middle" font-size="31">6</text>
<text transform="translate(470.4 703) scale(1.05 1)" text-anchor="middle" font-size="31">8</text>
<text transform="translate(553.4 703) scale(1.05 1)" text-anchor="middle" font-size="31">10</text>
<text transform="translate(634.46 703) scale(1.05 1)" text-anchor="middle" font-size="31">12</text>
<text transform="translate(715.52 703) scale(1.05 1)" text-anchor="middle" font-size="31">14</text>
<text x="446.5" y="758.3" text-anchor="middle" font-size="43" font-style="italic">K</text>
<rect x="439.2" y="724.6" width="23.5" height="3.1" fill="#000"/>
<g transform="translate(43 362.0) rotate(-90)"><text transform="translate(-47.8 0) skewX(-23) scale(0.93 1)" font-size="43">Δ</text><text x="-21.6" y="0" font-size="43" font-style="italic">K/K</text><rect x="25.6" y="-35" width="22.2" height="2.6" fill="#000"/></g>
<text x="5.5" y="32.3" font-size="33.5" font-weight="bold" style="font-family:'Liberation Sans','DejaVu Sans',sans-serif">A</text>
</g>
<g id="panelB">
<g clip-path="url(#hclip)"><g filter="url(#vb)"><rect x="1023" y="32.6" width="553.5" height="23.6" fill="url(#hg0)"/>
<rect x="1023" y="55.6" width="553.5" height="8.6" fill="url(#hg1)"/>
<rect x="1023" y="63.6" width="553.5" height="8.6" fill="url(#hg2)"/>
<rect x="1023" y="71.6" width="553.5" height="8.6" fill="url(#hg3)"/>
<rect x="1023" y="79.6" width="553.5" height="8.6" fill="url(#hg4)"/>
<rect x="1023" y="87.6" width="553.5" height="8.6" fill="url(#hg5)"/>
<rect x="1023" y="95.6" width="553.5" height="8.6" fill="url(#hg6)"/>
<rect x="1023" y="103.6" width="553.5" height="8.6" fill="url(#hg7)"/>
<rect x="1023" y="111.6" width="553.5" height="8.6" fill="url(#hg8)"/>
<rect x="1023" y="119.6" width="553.5" height="8.6" fill="url(#hg9)"/>
<rect x="1023" y="127.6" width="553.5" height="8.6" fill="url(#hg10)"/>
<rect x="1023" y="135.6" width="553.5" height="8.6" fill="url(#hg11)"/>
<rect x="1023" y="143.6" width="553.5" height="8.6" fill="url(#hg12)"/>
<rect x="1023" y="151.6" width="553.5" height="8.6" fill="url(#hg13)"/>
<rect x="1023" y="159.6" width="553.5" height="8.6" fill="url(#hg14)"/>
<rect x="1023" y="167.6" width="553.5" height="8.6" fill="url(#hg15)"/>
<rect x="1023" y="175.6" width="553.5" height="8.6" fill="url(#hg16)"/>
<rect x="1023" y="183.6" width="553.5" height="8.6" fill="url(#hg17)"/>
<rect x="1023" y="191.6" width="553.5" height="8.6" fill="url(#hg18)"/>
<rect x="1023" y="199.6" width="553.5" height="8.6" fill="url(#hg19)"/>
<rect x="1023" y="207.6" width="553.5" height="8.6" fill="url(#hg20)"/>
<rect x="1023" y="215.6" width="553.5" height="8.6" fill="url(#hg21)"/>
<rect x="1023" y="223.6" width="553.5" height="8.6" fill="url(#hg22)"/>
<rect x="1023" y="231.6" width="553.5" height="8.6" fill="url(#hg23)"/>
<rect x="1023" y="239.6" width="553.5" height="8.6" fill="url(#hg24)"/>
<rect x="1023" y="247.6" width="553.5" height="8.6" fill="url(#hg25)"/>
<rect x="1023" y="255.6" width="553.5" height="8.6" fill="url(#hg26)"/>
<rect x="1023" y="263.6" width="553.5" height="8.6" fill="url(#hg27)"/>
<rect x="1023" y="271.6" width="553.5" height="8.6" fill="url(#hg28)"/>
<rect x="1023" y="279.6" width="553.5" height="8.6" fill="url(#hg29)"/>
<rect x="1023" y="287.6" width="553.5" height="8.6" fill="url(#hg30)"/>
<rect x="1023" y="295.6" width="553.5" height="8.6" fill="url(#hg31)"/>
<rect x="1023" y="303.6" width="553.5" height="8.6" fill="url(#hg32)"/>
<rect x="1023" y="311.6" width="553.5" height="8.6" fill="url(#hg33)"/>
<rect x="1023" y="319.6" width="553.5" height="8.6" fill="url(#hg34)"/>
<rect x="1023" y="327.6" width="553.5" height="8.6" fill="url(#hg35)"/>
<rect x="1023" y="335.6" width="553.5" height="8.6" fill="url(#hg36)"/>
<rect x="1023" y="343.6" width="553.5" height="8.6" fill="url(#hg37)"/>
<rect x="1023" y="351.6" width="553.5" height="8.6" fill="url(#hg38)"/>
<rect x="1023" y="359.6" width="553.5" height="8.6" fill="url(#hg39)"/>
<rect x="1023" y="367.6" width="553.5" height="8.6" fill="url(#hg40)"/>
<rect x="1023" y="375.6" width="553.5" height="8.6" fill="url(#hg41)"/>
<rect x="1023" y="383.6" width="553.5" height="8.6" fill="url(#hg42)"/>
<rect x="1023" y="391.6" width="553.5" height="8.6" fill="url(#hg43)"/>
<rect x="1023" y="399.6" width="553.5" height="8.6" fill="url(#hg44)"/>
<rect x="1023" y="407.6" width="553.5" height="8.6" fill="url(#hg45)"/>
<rect x="1023" y="415.6" width="553.5" height="8.6" fill="url(#hg46)"/>
<rect x="1023" y="423.6" width="553.5" height="8.6" fill="url(#hg47)"/>
<rect x="1023" y="431.6" width="553.5" height="8.6" fill="url(#hg48)"/>
<rect x="1023" y="439.6" width="553.5" height="8.6" fill="url(#hg49)"/>
<rect x="1023" y="447.6" width="553.5" height="8.6" fill="url(#hg50)"/>
<rect x="1023" y="455.6" width="553.5" height="8.6" fill="url(#hg51)"/>
<rect x="1023" y="463.6" width="553.5" height="8.6" fill="url(#hg52)"/>
<rect x="1016.49" y="471.6" width="560.01" height="8.6" fill="url(#hg53)"/>
<rect x="1015.64" y="479.6" width="560.86" height="8.6" fill="url(#hg54)"/>
<rect x="1015.01" y="487.6" width="561.49" height="8.6" fill="url(#hg55)"/>
<rect x="1014.69" y="495.6" width="561.81" height="8.6" fill="url(#hg56)"/>
<rect x="1014.6" y="503.6" width="561.9" height="8.6" fill="url(#hg57)"/>
<rect x="1014.63" y="511.6" width="561.87" height="8.6" fill="url(#hg58)"/>
<rect x="1014.85" y="519.6" width="561.65" height="8.6" fill="url(#hg59)"/>
<rect x="1015.44" y="527.6" width="561.06" height="8.6" fill="url(#hg60)"/>
<rect x="1016.28" y="535.6" width="560.22" height="8.6" fill="url(#hg61)"/>
<rect x="1017.42" y="543.6" width="559.08" height="8.6" fill="url(#hg62)"/>
<rect x="1019.02" y="551.6" width="557.48" height="8.6" fill="url(#hg63)"/>
<rect x="1021.22" y="559.6" width="555.28" height="8.6" fill="url(#hg64)"/>
<rect x="1023.7" y="567.6" width="552.8" height="8.6" fill="url(#hg65)"/>
<rect x="1026.03" y="575.6" width="550.47" height="8.6" fill="url(#hg66)"/>
<rect x="1028.12" y="583.6" width="548.38" height="8.6" fill="url(#hg67)"/>
<rect x="1030.17" y="591.6" width="546.33" height="8.6" fill="url(#hg68)"/>
<rect x="1032.37" y="599.6" width="544.13" height="8.6" fill="url(#hg69)"/>
<rect x="1035" y="607.6" width="541.5" height="8.6" fill="url(#hg70)"/>
<rect x="1038.14" y="615.6" width="538.36" height="8.6" fill="url(#hg71)"/>
<rect x="1041.41" y="623.6" width="535.09" height="8.6" fill="url(#hg72)"/>
<rect x="1044.84" y="631.6" width="531.66" height="8.6" fill="url(#hg73)"/>
<rect x="1048.36" y="639.6" width="528.14" height="8.6" fill="url(#hg74)"/>
<rect x="1052" y="647.6" width="524.5" height="8.6" fill="url(#hg75)"/>
<rect x="1054.74" y="655.6" width="521.76" height="18.9" fill="url(#hg76)"/></g></g>
<path d="M1334.2 660.5L1334.72 660.1L1335.4 659.58L1336.2 658.97L1337.11 658.28L1338.08 657.52L1339.11 656.71L1340.16 655.87L1341.2 655L1342.23 654.19L1343.28 653.46L1344.35 652.74L1345.46 651.94L1346.64 650.99L1347.89 649.82L1349.24 648.35L1350.7 646.5L1352.28 644.24L1353.97 641.62L1355.76 638.71L1357.62 635.57L1359.54 632.26L1361.51 628.86L1363.5 625.42L1365.5 622L1367.54 618.53L1369.63 614.9L1371.77 611.16L1373.95 607.36L1376.14 603.53L1378.34 599.74L1380.53 596.01L1382.7 592.4L1384.83 588.87L1386.94 585.35L1389.04 581.87L1391.14 578.43L1393.27 575.05L1395.42 571.74L1397.63 568.52L1399.9 565.4L1402.21 562.38L1404.54 559.45L1406.89 556.6L1409.29 553.82L1411.75 551.11L1414.28 548.46L1416.89 545.86L1419.6 543.3L1422.43 540.76L1425.39 538.22L1428.43 535.72L1431.54 533.28L1434.69 530.94L1437.86 528.73L1441 526.67L1444.1 524.8L1447.17 523.14L1450.24 521.68L1453.32 520.38L1456.39 519.21L1459.47 518.12L1462.55 517.08L1465.62 516.05L1468.7 515L1471.78 513.95L1474.85 512.95L1477.93 511.99L1481 511.07L1484.08 510.17L1487.15 509.3L1490.23 508.45L1493.3 507.6L1496.38 506.77L1499.45 505.96L1502.53 505.16L1505.6 504.39L1508.68 503.64L1511.75 502.91L1514.83 502.2L1517.9 501.5L1520.91 500.83L1523.84 500.18L1526.73 499.56L1529.63 498.95L1532.61 498.36L1535.71 497.77L1538.99 497.19L1542.5 496.6L1546.51 495.99L1551.08 495.34L1555.95 494.69L1560.89 494.04L1565.63 493.44L1569.93 492.9L1573.54 492.44L1576.2 492.1L1576.2 661L1334.2 661Z" fill="url(#hB)"/>
<path d="M1064.8 659.3H1576.5" stroke="#000" stroke-width="5.6"/>
<g fill="none" stroke="#000" stroke-width="2.6" stroke-linejoin="round">
<path d="M1025.8 472.7L1025.6 474.57L1025.31 477.16L1024.98 480.23L1024.64 483.54L1024.33 486.88L1024.1 490L1023.93 492.92L1023.8 495.84L1023.71 498.77L1023.64 501.75L1023.61 504.82L1023.6 508L1023.61 511.29L1023.62 514.65L1023.66 518.1L1023.76 521.64L1023.93 525.27L1024.2 529L1024.55 532.87L1024.96 536.87L1025.44 540.97L1026.02 545.13L1026.7 549.28L1027.5 553.4L1028.46 557.47L1029.59 561.52L1030.82 565.58L1032.1 569.66L1033.38 573.79L1034.6 578L1035.78 582.41L1036.97 587.03L1038.16 591.7L1039.34 596.26L1040.49 600.55L1041.6 604.4L1042.64 607.69L1043.61 610.53L1044.56 613.1L1045.52 615.58L1046.55 618.15L1047.7 621L1048.97 624.14L1050.34 627.43L1051.78 630.82L1053.25 634.24L1054.73 637.66L1056.2 641L1057.76 644.5L1059.47 648.26L1061.18 652L1062.78 655.46L1064.13 658.38L1065.1 660.5L1066.7 661.5" stroke-width="3"/>
<path d="M1025.8 472.7L1026.54 471.61L1027.55 470.09L1028.75 468.29L1030.07 466.39L1031.45 464.57L1032.8 463L1034.14 461.63L1035.54 460.32L1036.98 459.08L1038.47 457.94L1040.01 456.9L1041.6 456L1043.27 455.23L1045.04 454.57L1046.85 454.02L1048.66 453.58L1050.43 453.24L1052.1 453L1053.69 452.86L1055.23 452.83L1056.72 452.91L1058.16 453.08L1059.56 453.34L1060.9 453.7L1062.15 454.14L1063.3 454.67L1064.4 455.3L1065.5 456.03L1066.65 456.86L1067.9 457.8L1069.22 458.83L1070.57 459.93L1071.97 461.13L1073.44 462.47L1075.01 463.99L1076.7 465.7L1078.57 467.72L1080.61 470.04L1082.74 472.54L1084.9 475.07L1087.01 477.5L1089 479.7L1090.85 481.68L1092.63 483.56L1094.36 485.33L1096.06 487.02L1097.77 488.64L1099.5 490.2L1101.26 491.7L1103.03 493.14L1104.8 494.51L1106.57 495.79L1108.34 496.99L1110.1 498.1L1111.82 499.1L1113.48 500L1115.14 500.82L1116.84 501.56L1118.65 502.25L1120.6 502.9L1122.71 503.52L1124.94 504.09L1127.26 504.61L1129.66 505.06L1132.12 505.43L1134.6 505.7L1137.12 505.86L1139.7 505.91L1142.33 505.88L1145.01 505.78L1147.74 505.65L1150.5 505.5L1153.32 505.32L1156.21 505.09L1159.14 504.82L1162.1 504.53L1165.06 504.22L1168 503.9L1170.95 503.57L1173.93 503.21L1176.92 502.84L1179.88 502.46L1182.78 502.08L1185.6 501.7L1187.8 501.37L1189.3 501.09L1190.75 500.81L1192.79 500.47L1196.05 500.02L1201.2 499.4L1208.63 498.58L1217.91 497.61L1228.43 496.52L1239.56 495.37L1250.69 494.18L1261.2 493L1271.33 491.8L1281.6 490.55L1291.88 489.27L1302 487.98L1311.83 486.72L1321.2 485.5L1330.03 484.34L1338.4 483.21L1346.48 482.11L1354.4 481.01L1362.33 479.91L1370.4 478.8L1378.6 477.68L1386.8 476.56L1395.01 475.44L1403.21 474.31L1411.41 473.17L1419.6 472L1427.79 470.8L1435.97 469.58L1444.15 468.34L1452.33 467.09L1460.51 465.84L1468.7 464.6L1476.79 463.38L1484.76 462.18L1492.72 460.97L1500.82 459.76L1509.17 458.5L1517.9 457.2L1527.76 455.74L1538.82 454.1L1550.12 452.44L1560.75 450.87L1569.75 449.55L1576.2 448.6" stroke-width="3.1"/>
</g>
<path d="M1031.9 48L1031.87 60.5L1031.83 73M1031.76 98L1031.73 110L1031.67 122M1031.36 147L1031.21 159.25L1031.06 171.5M1030.75 196L1030.25 213L1029.65 230M1029.13 244.5L1028.4 264.25L1027.67 284M1026.67 311.6L1026.45 324.8L1026.22 338M1025.76 364.5L1025.46 377.75L1025.15 391M1024.5 418.5L1024.18 432.25L1023.92 446M1023.57 472.5L1023.39 486L1023.21 499.5M1023.13 526.3L1023.1 539.65L1023.07 553M1023 580L1022.98 593.4L1022.97 606.8M1022.93 633.8L1022.92 647.1L1022.9 660.4" fill="none" stroke="#000" stroke-width="6.8"/>
<path d="M1576.2 53.99L1572.83 54.04L1568.19 54.11L1562.69 54.19L1556.73 54.27L1550.74 54.36L1545.13 54.45L1539.8 54.54L1534.42 54.62L1529 54.71L1523.56 54.81L1518.12 54.9L1512.7 55L1507.3 55.1L1501.89 55.2L1496.49 55.31L1491.09 55.41L1485.68 55.53L1480.28 55.64L1474.87 55.76L1469.47 55.88L1464.07 56L1458.66 56.12L1453.26 56.25L1447.85 56.39L1442.45 56.53L1437.05 56.67L1431.64 56.81L1426.24 56.96L1420.83 57.12L1415.43 57.27L1410.03 57.44L1404.62 57.61L1399.22 57.78L1393.81 57.96L1388.41 58.15L1383.01 58.34L1377.6 58.54L1372.2 58.74L1366.79 58.95L1361.39 59.17L1355.99 59.4L1350.58 59.63L1345.18 59.88L1339.77 60.13L1334.37 60.39L1328.97 60.66L1323.56 60.94L1318.16 61.24L1312.75 61.54L1307.35 61.86L1301.95 62.19L1296.54 62.53L1291.14 62.89L1285.73 63.26L1280.33 63.65L1274.93 64.06L1269.52 64.48L1264.12 64.92L1258.71 65.39L1253.31 65.88L1247.76 66.42L1242.03 67.01L1236.3 67.63L1230.75 68.24L1225.55 68.83L1220.89 69.37L1216.82 69.87L1213.23 70.33L1209.99 70.77L1206.99 71.19L1204.1 71.6L1201.2 72L1198.49 72.36L1196.1 72.65L1193.82 72.93L1191.45 73.25L1188.78 73.66L1185.6 74.2L1181.82 74.88L1177.6 75.67L1173.07 76.55L1168.39 77.49L1163.72 78.48L1159.2 79.5L1154.81 80.54L1150.43 81.61L1146.04 82.72L1141.66 83.9L1137.28 85.16L1132.9 86.5L1128.48 87.89L1124.01 89.31L1119.54 90.8L1115.11 92.41L1110.79 94.2L1106.6 96.2L1102.5 98.48L1098.45 101.01L1094.49 103.72L1090.68 106.51L1087.07 109.3L1083.7 112L1080.62 114.61L1077.78 117.2L1075.14 119.79L1072.64 122.4L1070.25 125.06L1067.9 127.8L1065.6 130.63L1063.4 133.54L1061.29 136.49L1059.28 139.47L1057.38 142.45L1055.6 145.4L1053.95 148.32L1052.44 151.24L1051.04 154.15L1049.71 157.06L1048.44 159.98L1047.2 162.9L1045.98 165.83L1044.81 168.76L1043.7 171.7L1042.64 174.64L1041.64 177.57L1040.7 180.5L1039.82 183.42L1039.01 186.34L1038.26 189.25L1037.56 192.16L1036.9 195.08L1036.3 198L1035.76 200.96L1035.29 203.98L1034.86 206.99L1034.47 209.97L1034.09 212.85L1033.7 215.6L1033.31 218.18L1032.93 220.61L1032.56 222.96L1032.2 225.27L1031.85 227.6L1031.5 230L1031.13 232.64L1030.74 235.51L1030.36 238.4L1030.01 241.09L1029.72 243.36L1029.5 245" fill="none" stroke="#000" stroke-width="6.6" stroke-dasharray="26.8 26.8" stroke-dashoffset="37.2"/>
<path d="M1026.8 390L1026.9 390.39L1027.01 390.91L1027.16 391.53L1027.36 392.26L1027.63 393.08L1028 394L1028.48 395L1029.05 396.09L1029.69 397.28L1030.4 398.57L1031.14 399.98L1031.9 401.5L1032.69 403.19L1033.53 405.04L1034.41 407.01L1035.32 409.03L1036.25 411.04L1037.2 413L1038.17 414.92L1039.17 416.84L1040.19 418.76L1041.23 420.67L1042.27 422.55L1043.3 424.4L1044.3 426.18L1045.27 427.91L1046.24 429.61L1047.24 431.31L1048.32 433.07L1049.5 434.9L1050.8 436.86L1052.21 438.93L1053.69 441.04L1055.2 443.14L1056.72 445.14L1058.2 447L1059.76 448.78L1061.45 450.56L1063.14 452.26L1064.71 453.78L1066.04 455.06L1067 456" fill="none" stroke="#000" stroke-width="6.3" stroke-dasharray="6 6.3"/>
<g stroke="#fff" stroke-width="4" fill="none">
<path d="M1080.6 281l27.6 27.6M1080.6 308.6l27.6 -27.6"/>
<path d="M1080.5 584.7l27.6 27.6M1080.5 612.3l27.6 -27.6"/>
<path d="M1444.1 584.7l27.6 27.6M1444.1 612.3l27.6 -27.6"/>
<path d="M1094.4 330V562"/>
<path d="M1140 598.5H1412"/>
</g>
<path transform="translate(1094.4 307.1) rotate(-90)" d="M0 0L-35 10.5L-27 0L-35 -10.5Z" fill="#fff"/>
<path transform="translate(1094.4 585.4) rotate(90)" d="M0 0L-35 10.5L-27 0L-35 -10.5Z" fill="#fff"/>
<path transform="translate(1114.6 598.5) rotate(180)" d="M0 0L-35 10.5L-27 0L-35 -10.5Z" fill="#fff"/>
<path transform="translate(1436 598.5) rotate(0)" d="M0 0L-35 10.5L-27 0L-35 -10.5Z" fill="#fff"/>
<text transform="translate(1116.8 273.9) scale(1.2 1)" font-size="57" letter-spacing="-5.4" style="font-family:'DejaVu Serif',serif;fill:#fff;stroke:#fff;stroke-width:1.8px">I</text>
<text transform="translate(1112.4 575.9) scale(1.2 1)" font-size="57" letter-spacing="-5.4" style="font-family:'DejaVu Serif',serif;fill:#fff;stroke:#fff;stroke-width:1.8px">II</text>
<text transform="translate(1477.3 584.4) scale(1.2 1)" font-size="57" letter-spacing="-5.4" style="font-family:'DejaVu Serif',serif;fill:#fff;stroke:#fff;stroke-width:1.8px">III</text>
<text x="967.7" y="351.5" font-size="46">I</text>
<path d="M957.9 657h7.6 M1591 657h-7.6" stroke="#333" stroke-width="1.5"/>
<path d="M957.9 626.57h4.6 M1591 626.57h-4.6" stroke="#333" stroke-width="1.0"/>
<path d="M957.9 596.14h4.6 M1591 596.14h-4.6" stroke="#333" stroke-width="1.0"/>
<path d="M957.9 565.71h4.6 M1591 565.71h-4.6" stroke="#333" stroke-width="1.0"/>
<path d="M957.9 535.28h7.6 M1591 535.28h-7.6" stroke="#333" stroke-width="1.5"/>
<path d="M957.9 504.85h4.6 M1591 504.85h-4.6" stroke="#333" stroke-width="1.0"/>
<path d="M957.9 474.42h4.6 M1591 474.42h-4.6" stroke="#333" stroke-width="1.0"/>
<path d="M957.9 443.99h4.6 M1591 443.99h-4.6" stroke="#333" stroke-width="1.0"/>
<path d="M957.9 413.56h7.6 M1591 413.56h-7.6" stroke="#333" stroke-width="1.5"/>
<path d="M957.9 383.13h4.6 M1591 383.13h-4.6" stroke="#333" stroke-width="1.0"/>
<path d="M957.9 352.7h4.6 M1591 352.7h-4.6" stroke="#333" stroke-width="1.0"/>
<path d="M957.9 322.27h4.6 M1591 322.27h-4.6" stroke="#333" stroke-width="1.0"/>
<path d="M957.9 291.84h7.6 M1591 291.84h-7.6" stroke="#333" stroke-width="1.5"/>
<path d="M957.9 261.41h4.6 M1591 261.41h-4.6" stroke="#333" stroke-width="1.0"/>
<path d="M957.9 230.98h4.6 M1591 230.98h-4.6" stroke="#333" stroke-width="1.0"/>
<path d="M957.9 200.55h4.6 M1591 200.55h-4.6" stroke="#333" stroke-width="1.0"/>
<path d="M957.9 170.12h7.6 M1591 170.12h-7.6" stroke="#333" stroke-width="1.5"/>
<path d="M957.9 139.69h4.6 M1591 139.69h-4.6" stroke="#333" stroke-width="1.0"/>
<path d="M957.9 109.26h4.6 M1591 109.26h-4.6" stroke="#333" stroke-width="1.0"/>
<path d="M957.9 78.83h4.6 M1591 78.83h-4.6" stroke="#333" stroke-width="1.0"/>
<path d="M957.9 48.4h7.6 M1591 48.4h-7.6" stroke="#333" stroke-width="1.5"/>
<path d="M970.3 37.2v7.2 M970.3 668.5v-7.2" stroke="#333" stroke-width="1.3"/>
<path d="M990.57 37.2v4.4 M990.57 668.5v-4.4" stroke="#333" stroke-width="0.9"/>
<path d="M1010.83 37.2v4.4 M1010.83 668.5v-4.4" stroke="#333" stroke-width="0.9"/>
<path d="M1031.1 37.2v4.4 M1031.1 668.5v-4.4" stroke="#333" stroke-width="0.9"/>
<path d="M1051.36 37.2v7.2 M1051.36 668.5v-7.2" stroke="#333" stroke-width="1.3"/>
<path d="M1071.62 37.2v4.4 M1071.62 668.5v-4.4" stroke="#333" stroke-width="0.9"/>
<path d="M1091.89 37.2v4.4 M1091.89 668.5v-4.4" stroke="#333" stroke-width="0.9"/>
<path d="M1112.15 37.2v4.4 M1112.15 668.5v-4.4" stroke="#333" stroke-width="0.9"/>
<path d="M1132.42 37.2v7.2 M1132.42 668.5v-7.2" stroke="#333" stroke-width="1.3"/>
<path d="M1152.68 37.2v4.4 M1152.68 668.5v-4.4" stroke="#333" stroke-width="0.9"/>
<path d="M1172.95 37.2v4.4 M1172.95 668.5v-4.4" stroke="#333" stroke-width="0.9"/>
<path d="M1193.22 37.2v4.4 M1193.22 668.5v-4.4" stroke="#333" stroke-width="0.9"/>
<path d="M1213.48 37.2v7.2 M1213.48 668.5v-7.2" stroke="#333" stroke-width="1.3"/>
<path d="M1233.74 37.2v4.4 M1233.74 668.5v-4.4" stroke="#333" stroke-width="0.9"/>
<path d="M1254.01 37.2v4.4 M1254.01 668.5v-4.4" stroke="#333" stroke-width="0.9"/>
<path d="M1274.28 37.2v4.4 M1274.28 668.5v-4.4" stroke="#333" stroke-width="0.9"/>
<path d="M1294.54 37.2v7.2 M1294.54 668.5v-7.2" stroke="#333" stroke-width="1.3"/>
<path d="M1314.8 37.2v4.4 M1314.8 668.5v-4.4" stroke="#333" stroke-width="0.9"/>
<path d="M1335.07 37.2v4.4 M1335.07 668.5v-4.4" stroke="#333" stroke-width="0.9"/>
<path d="M1355.34 37.2v4.4 M1355.34 668.5v-4.4" stroke="#333" stroke-width="0.9"/>
<path d="M1375.6 37.2v7.2 M1375.6 668.5v-7.2" stroke="#333" stroke-width="1.3"/>
<path d="M1395.87 37.2v4.4 M1395.87 668.5v-4.4" stroke="#333" stroke-width="0.9"/>
<path d="M1416.13 37.2v4.4 M1416.13 668.5v-4.4" stroke="#333" stroke-width="0.9"/>
<path d="M1436.39 37.2v4.4 M1436.39 668.5v-4.4" stroke="#333" stroke-width="0.9"/>
<path d="M1456.66 37.2v7.2 M1456.66 668.5v-7.2" stroke="#333" stroke-width="1.3"/>
<path d="M1476.92 37.2v4.4 M1476.92 668.5v-4.4" stroke="#333" stroke-width="0.9"/>
<path d="M1497.19 37.2v4.4 M1497.19 668.5v-4.4" stroke="#333" stroke-width="0.9"/>
<path d="M1517.45 37.2v4.4 M1517.45 668.5v-4.4" stroke="#333" stroke-width="0.9"/>
<path d="M1537.72 37.2v7.2 M1537.72 668.5v-7.2" stroke="#333" stroke-width="1.3"/>
<path d="M1557.99 37.2v4.4 M1557.99 668.5v-4.4" stroke="#333" stroke-width="0.9"/>
<path d="M1578.25 37.2v4.4 M1578.25 668.5v-4.4" stroke="#333" stroke-width="0.9"/>
<rect x="956.6" y="35.9" width="635.7" height="633.9" fill="none" stroke="#000" stroke-width="2.7"/>
<text transform="translate(943.4 669.7) scale(1.02 1)" text-anchor="end" font-size="31">0.0</text>
<text transform="translate(943.4 547.98) scale(1.02 1)" text-anchor="end" font-size="31">0.2</text>
<text transform="translate(943.4 426.26) scale(1.02 1)" text-anchor="end" font-size="31">0.4</text>
<text transform="translate(943.4 304.54) scale(1.02 1)" text-anchor="end" font-size="31">0.6</text>
<text transform="translate(943.4 182.82) scale(1.02 1)" text-anchor="end" font-size="31">0.8</text>
<text transform="translate(940.9 61.1) scale(1.02 1)" text-anchor="end" font-size="31">1.0</text>
<text transform="translate(966.4 703) scale(1.05 1)" text-anchor="middle" font-size="31">0</text>
<text transform="translate(1047.76 703) scale(1.05 1)" text-anchor="middle" font-size="31">2</text>
<text transform="translate(1129.12 703) scale(1.05 1)" text-anchor="middle" font-size="31">4</text>
<text transform="translate(1210.48 703) scale(1.05 1)" text-anchor="middle" font-size="31">6</text>
<text transform="translate(1291.84 703) scale(1.05 1)" text-anchor="middle" font-size="31">8</text>
<text transform="translate(1375.3 703) scale(1.05 1)" text-anchor="middle" font-size="31">10</text>
<text transform="translate(1456.36 703) scale(1.05 1)" text-anchor="middle" font-size="31">12</text>
<text transform="translate(1537.42 703) scale(1.05 1)" text-anchor="middle" font-size="31">14</text>
<text x="1268.4" y="758.3" text-anchor="middle" font-size="43" font-style="italic">K</text>
<rect x="1261.1" y="724.6" width="23.5" height="3.1" fill="#000"/>
<g transform="translate(863.2 362.0) rotate(-90)"><text transform="translate(-47.8 0) skewX(-23) scale(0.93 1)" font-size="43">Δ</text><text x="-21.6" y="0" font-size="43" font-style="italic">K/K</text><rect x="25.6" y="-35" width="22.2" height="2.6" fill="#000"/></g>
<text x="835.4" y="32.5" font-size="32.3" font-weight="bold" style="font-family:'Liberation Sans','DejaVu Sans',sans-serif">B</text>
</g>
<g id="cbar">
<rect x="1640.6" y="95.8" width="36.2" height="525.1" fill="url(#cb)" stroke="#1a1a1a" stroke-width="1.4"/>
<path d="M1676.8 621h19.5" stroke="#000" stroke-width="2"/>
<text x="1720" y="632" font-size="30.5">0</text>
<path d="M1676.8 586.85h10" stroke="#000" stroke-width="1.7"/>
<path d="M1676.8 552.7h10" stroke="#000" stroke-width="1.7"/>
<path d="M1676.8 518.55h10" stroke="#000" stroke-width="1.7"/>
<path d="M1676.8 484.4h19.5" stroke="#000" stroke-width="2"/>
<text x="1720" y="495.4" font-size="30.5">50</text>
<path d="M1676.8 450.25h10" stroke="#000" stroke-width="1.7"/>
<path d="M1676.8 416.1h10" stroke="#000" stroke-width="1.7"/>
<path d="M1676.8 381.95h10" stroke="#000" stroke-width="1.7"/>
<path d="M1676.8 347.8h19.5" stroke="#000" stroke-width="2"/>
<text x="1720" y="358.8" font-size="30.5">100</text>
<path d="M1676.8 313.65h10" stroke="#000" stroke-width="1.7"/>
<path d="M1676.8 279.5h10" stroke="#000" stroke-width="1.7"/>
<path d="M1676.8 245.35h10" stroke="#000" stroke-width="1.7"/>
<path d="M1676.8 211.2h19.5" stroke="#000" stroke-width="2"/>
<text x="1720" y="222.2" font-size="30.5">150</text>
<path d="M1676.8 177.05h10" stroke="#000" stroke-width="1.7"/>
<path d="M1676.8 142.9h10" stroke="#000" stroke-width="1.7"/>
<path d="M1676.8 108.75h10" stroke="#000" stroke-width="1.7"/>
<text x="1653" y="69.7" font-size="40" font-style="italic" font-weight="bold" style="stroke:none">r</text>
<text x="1679.3" y="69.7" font-size="33" font-style="italic">[Hz]</text>
<rect x="1656.8" y="44.9" width="14.5" height="2.5" fill="#000"/>
</g>
<g id="panelC">
<g>
<rect x="64.2" y="818.1" width="359.2" height="250.9" fill="#fff" stroke="#222" stroke-width="1.2"/>
<path d="M64.2 1069v-7 M64.2 818.1v7" stroke="#222" stroke-width="1.1"/>
<text x="65.4" y="1093.6" text-anchor="middle" font-size="24">0</text>
<path d="M100.12 1069v-4 M100.12 818.1v4" stroke="#222" stroke-width="1.1"/>
<path d="M136.04 1069v-7 M136.04 818.1v7" stroke="#222" stroke-width="1.1"/>
<text x="132.74" y="1093.6" text-anchor="middle" font-size="24">0.2</text>
<path d="M171.96 1069v-4 M171.96 818.1v4" stroke="#222" stroke-width="1.1"/>
<path d="M207.88 1069v-7 M207.88 818.1v7" stroke="#222" stroke-width="1.1"/>
<text x="208.68" y="1093.6" text-anchor="middle" font-size="24">0.4</text>
<path d="M243.8 1069v-4 M243.8 818.1v4" stroke="#222" stroke-width="1.1"/>
<path d="M279.72 1069v-7 M279.72 818.1v7" stroke="#222" stroke-width="1.1"/>
<text x="278.92" y="1093.6" text-anchor="middle" font-size="24">0.6</text>
<path d="M315.64 1069v-4 M315.64 818.1v4" stroke="#222" stroke-width="1.1"/>
<path d="M351.56 1069v-7 M351.56 818.1v7" stroke="#222" stroke-width="1.1"/>
<text x="348.76" y="1093.6" text-anchor="middle" font-size="24">0.8</text>
<path d="M387.48 1069v-4 M387.48 818.1v4" stroke="#222" stroke-width="1.1"/>
<path d="M423.4 1069v-7 M423.4 818.1v7" stroke="#222" stroke-width="1.1"/>
<text x="422" y="1093.6" text-anchor="middle" font-size="24">1</text>
<path d="M64.2 1069h7 M423.4 1069h-7" stroke="#222" stroke-width="1.1"/>
<path d="M64.2 1027.18h4 M423.4 1027.18h-4" stroke="#222" stroke-width="1.1"/>
<path d="M64.2 985.37h7 M423.4 985.37h-7" stroke="#222" stroke-width="1.1"/>
<path d="M64.2 943.55h4 M423.4 943.55h-4" stroke="#222" stroke-width="1.1"/>
<path d="M64.2 901.73h7 M423.4 901.73h-7" stroke="#222" stroke-width="1.1"/>
<path d="M64.2 859.92h4 M423.4 859.92h-4" stroke="#222" stroke-width="1.1"/>
<path d="M64.2 818.1h7 M423.4 818.1h-7" stroke="#222" stroke-width="1.1"/>
<text x="51.2" y="1077.4" text-anchor="end" font-size="24">0</text>
<path d="M64.19 1065.29L112.59 1065.29L112.59 1065.29C112.67 1061.53 112.52 1050.36 113.06 1042.72C113.6 1035.08 114.42 1027.21 115.85 1019.45C117.29 1011.69 119.34 1003.55 121.67 996.18C124 988.81 126.71 981.83 129.82 975.23C132.92 968.64 136.41 962.43 140.29 956.61C144.17 950.8 148.24 946.14 153.09 940.32C157.94 934.51 163.56 927.52 169.38 921.71C175.2 915.89 181.4 910.65 188 905.42C194.59 900.18 201.57 894.94 208.94 890.29C216.31 885.63 224.07 881.56 232.21 877.49C240.36 873.42 249.28 869.34 257.81 865.85C266.35 862.36 274.49 859.65 283.41 856.54C292.33 853.44 302.03 850.03 311.34 847.24C320.65 844.44 329.96 842.04 339.26 839.79C348.57 837.54 357.88 835.52 367.19 833.74C376.5 831.95 386.08 830.48 395.12 829.08C404.15 827.69 417.03 825.98 421.41 825.36" fill="none" stroke="#fb0d0d" stroke-width="6.6" stroke-linejoin="miter" stroke-miterlimit="3"/>
<rect x="66.1" y="820.3" width="66.4" height="39.2" fill="#2f6ca3" stroke="#000" stroke-width="2.8"/>
<text x="147.2" y="856.5" font-size="50.5">I+D</text>
<text x="242.8" y="1125.5" text-anchor="middle" font-size="28" font-style="italic">K<tspan font-size="17.5" dy="5.7">rank</tspan></text>
<text transform="translate(38.4 942) rotate(-90)" text-anchor="middle" font-size="27.5" font-style="italic">r [Hz]</text>

</g>
<g>
<rect x="502.8" y="818.1" width="359.1" height="250.9" fill="#fff" stroke="#222" stroke-width="1.2"/>
<path d="M502.8 1069v-7 M502.8 818.1v7" stroke="#222" stroke-width="1.1"/>
<text x="504" y="1093.6" text-anchor="middle" font-size="24">0</text>
<path d="M538.71 1069v-4 M538.71 818.1v4" stroke="#222" stroke-width="1.1"/>
<path d="M574.62 1069v-7 M574.62 818.1v7" stroke="#222" stroke-width="1.1"/>
<text x="571.32" y="1093.6" text-anchor="middle" font-size="24">0.2</text>
<path d="M610.53 1069v-4 M610.53 818.1v4" stroke="#222" stroke-width="1.1"/>
<path d="M646.44 1069v-7 M646.44 818.1v7" stroke="#222" stroke-width="1.1"/>
<text x="647.24" y="1093.6" text-anchor="middle" font-size="24">0.4</text>
<path d="M682.35 1069v-4 M682.35 818.1v4" stroke="#222" stroke-width="1.1"/>
<path d="M718.26 1069v-7 M718.26 818.1v7" stroke="#222" stroke-width="1.1"/>
<text x="717.46" y="1093.6" text-anchor="middle" font-size="24">0.6</text>
<path d="M754.17 1069v-4 M754.17 818.1v4" stroke="#222" stroke-width="1.1"/>
<path d="M790.08 1069v-7 M790.08 818.1v7" stroke="#222" stroke-width="1.1"/>
<text x="787.28" y="1093.6" text-anchor="middle" font-size="24">0.8</text>
<path d="M825.99 1069v-4 M825.99 818.1v4" stroke="#222" stroke-width="1.1"/>
<path d="M861.9 1069v-7 M861.9 818.1v7" stroke="#222" stroke-width="1.1"/>
<text x="860.5" y="1093.6" text-anchor="middle" font-size="24">1</text>
<path d="M502.8 1069h7 M861.9 1069h-7" stroke="#222" stroke-width="1.1"/>
<path d="M502.8 1006.27h4 M861.9 1006.27h-4" stroke="#222" stroke-width="1.1"/>
<path d="M502.8 943.55h7 M861.9 943.55h-7" stroke="#222" stroke-width="1.1"/>
<path d="M502.8 880.83h4 M861.9 880.83h-4" stroke="#222" stroke-width="1.1"/>
<path d="M502.8 818.1h7 M861.9 818.1h-7" stroke="#222" stroke-width="1.1"/>
<text x="490.2" y="1077.4" text-anchor="end" font-size="24">0</text>
<path d="M504.52 1029.92C506.53 1026.43 512.27 1015.76 516.62 1008.98C520.96 1002.19 525.54 995.79 530.58 989.19C535.62 982.6 541.05 976.01 546.87 969.41C552.69 962.82 558.9 956.03 565.49 949.63C572.08 943.23 579.06 937.03 586.43 931.01C593.8 925 601.56 919.18 609.71 913.56C617.85 907.94 626.77 902.31 635.31 897.27C643.84 892.23 651.98 887.69 660.9 883.31C669.83 878.92 679.13 875.05 688.83 870.97C698.53 866.9 709 862.63 719.08 858.87C729.17 855.11 739.64 851.58 749.34 848.4C759.03 845.22 767.96 842.46 777.26 839.79C786.57 837.11 795.88 834.67 805.19 832.34C814.5 830.01 824 827.8 833.12 825.82C842.23 823.85 855.42 821.36 859.88 820.47" fill="none" stroke="#fb0d0d" stroke-width="6.6"/>
<rect x="502.2" y="820.3" width="66.4" height="39.2" fill="#5bab63" stroke="#000" stroke-width="2.8"/>
<text x="585.8" y="856.5" font-size="50.5">D</text>
<text x="681.35" y="1125.5" text-anchor="middle" font-size="28" font-style="italic">K<tspan font-size="17.5" dy="5.7">rank</tspan></text>
<text transform="translate(477 942) rotate(-90)" text-anchor="middle" font-size="27.5" font-style="italic">r [Hz]</text>

</g>
<g>
<rect x="940.9" y="818.1" width="359.1" height="250.9" fill="#fff" stroke="#222" stroke-width="1.2"/>
<path d="M940.9 1069v-7 M940.9 818.1v7" stroke="#222" stroke-width="1.1"/>
<text x="942.1" y="1093.6" text-anchor="middle" font-size="24">0</text>
<path d="M976.81 1069v-4 M976.81 818.1v4" stroke="#222" stroke-width="1.1"/>
<path d="M1012.72 1069v-7 M1012.72 818.1v7" stroke="#222" stroke-width="1.1"/>
<text x="1009.42" y="1093.6" text-anchor="middle" font-size="24">0.2</text>
<path d="M1048.63 1069v-4 M1048.63 818.1v4" stroke="#222" stroke-width="1.1"/>
<path d="M1084.54 1069v-7 M1084.54 818.1v7" stroke="#222" stroke-width="1.1"/>
<text x="1085.34" y="1093.6" text-anchor="middle" font-size="24">0.4</text>
<path d="M1120.45 1069v-4 M1120.45 818.1v4" stroke="#222" stroke-width="1.1"/>
<path d="M1156.36 1069v-7 M1156.36 818.1v7" stroke="#222" stroke-width="1.1"/>
<text x="1155.56" y="1093.6" text-anchor="middle" font-size="24">0.6</text>
<path d="M1192.27 1069v-4 M1192.27 818.1v4" stroke="#222" stroke-width="1.1"/>
<path d="M1228.18 1069v-7 M1228.18 818.1v7" stroke="#222" stroke-width="1.1"/>
<text x="1225.38" y="1093.6" text-anchor="middle" font-size="24">0.8</text>
<path d="M1264.09 1069v-4 M1264.09 818.1v4" stroke="#222" stroke-width="1.1"/>
<path d="M1300 1069v-7 M1300 818.1v7" stroke="#222" stroke-width="1.1"/>
<text x="1298.6" y="1093.6" text-anchor="middle" font-size="24">1</text>
<path d="M940.9 1069h7 M1300 1069h-7" stroke="#222" stroke-width="1.1"/>
<path d="M940.9 1006.27h4 M1300 1006.27h-4" stroke="#222" stroke-width="1.1"/>
<path d="M940.9 943.55h7 M1300 943.55h-7" stroke="#222" stroke-width="1.1"/>
<path d="M940.9 880.83h4 M1300 880.83h-4" stroke="#222" stroke-width="1.1"/>
<path d="M940.9 818.1h7 M1300 818.1h-7" stroke="#222" stroke-width="1.1"/>
<text x="930" y="1077.4" text-anchor="end" font-size="24">0</text>
<path d="M941.59 1032.95L1050.5 1032.95L1050.5 1032.95C1050.81 1030.89 1051.27 1024.8 1052.36 1020.61C1053.45 1016.42 1054.88 1012.27 1057.01 1007.81C1059.15 1003.35 1061.67 998.5 1065.16 993.85C1068.65 989.19 1073.11 984.73 1077.96 979.89C1082.81 975.04 1088.82 969.61 1094.25 964.76C1099.68 959.91 1105.11 955.06 1110.54 950.8C1115.97 946.53 1121.01 942.84 1126.83 939.16C1132.65 935.48 1138.47 932.76 1145.45 928.69C1152.43 924.61 1160.96 919.38 1168.72 914.72C1176.48 910.07 1184.24 905.22 1191.99 900.76C1199.75 896.3 1207.51 892.03 1215.26 887.96C1223.02 883.89 1230.78 879.82 1238.54 876.33C1246.29 872.83 1254.05 869.93 1261.81 867.02C1269.57 864.11 1278.87 861 1285.08 858.87C1291.29 856.74 1296.72 854.99 1299.04 854.22" fill="none" stroke="#fb0d0d" stroke-width="6.6" stroke-linejoin="miter" stroke-miterlimit="3"/>
<rect x="941.8" y="820.3" width="66.4" height="39.2" fill="#ff9900" stroke="#000" stroke-width="2.8"/>
<text x="1023.9" y="856.5" font-size="50.5">D+S</text>
<text x="1119.45" y="1125.5" text-anchor="middle" font-size="28" font-style="italic">K<tspan font-size="17.5" dy="5.7">rank</tspan></text>
<text transform="translate(915.1 942) rotate(-90)" text-anchor="middle" font-size="27.5" font-style="italic">r [Hz]</text>
<text x="911.5" y="1036" font-size="33" font-style="italic">r<tspan font-size="20" font-style="normal" dy="6.5">s</tspan></text>
</g>
<g>
<rect x="1384.2" y="818.1" width="359.6" height="250.9" fill="#fff" stroke="#222" stroke-width="1.2"/>
<path d="M1384.2 1069v-7 M1384.2 818.1v7" stroke="#222" stroke-width="1.1"/>
<text x="1385.4" y="1093.6" text-anchor="middle" font-size="24">0</text>
<path d="M1420.16 1069v-4 M1420.16 818.1v4" stroke="#222" stroke-width="1.1"/>
<path d="M1456.12 1069v-7 M1456.12 818.1v7" stroke="#222" stroke-width="1.1"/>
<text x="1452.82" y="1093.6" text-anchor="middle" font-size="24">0.2</text>
<path d="M1492.08 1069v-4 M1492.08 818.1v4" stroke="#222" stroke-width="1.1"/>
<path d="M1528.04 1069v-7 M1528.04 818.1v7" stroke="#222" stroke-width="1.1"/>
<text x="1528.84" y="1093.6" text-anchor="middle" font-size="24">0.4</text>
<path d="M1564 1069v-4 M1564 818.1v4" stroke="#222" stroke-width="1.1"/>
<path d="M1599.96 1069v-7 M1599.96 818.1v7" stroke="#222" stroke-width="1.1"/>
<text x="1599.16" y="1093.6" text-anchor="middle" font-size="24">0.6</text>
<path d="M1635.92 1069v-4 M1635.92 818.1v4" stroke="#222" stroke-width="1.1"/>
<path d="M1671.88 1069v-7 M1671.88 818.1v7" stroke="#222" stroke-width="1.1"/>
<text x="1669.08" y="1093.6" text-anchor="middle" font-size="24">0.8</text>
<path d="M1707.84 1069v-4 M1707.84 818.1v4" stroke="#222" stroke-width="1.1"/>
<path d="M1743.8 1069v-7 M1743.8 818.1v7" stroke="#222" stroke-width="1.1"/>
<text x="1742.4" y="1093.6" text-anchor="middle" font-size="24">1</text>
<path d="M1384.2 1069h7 M1743.8 1069h-7" stroke="#222" stroke-width="1.1"/>
<path d="M1384.2 1006.27h4 M1743.8 1006.27h-4" stroke="#222" stroke-width="1.1"/>
<path d="M1384.2 943.55h7 M1743.8 943.55h-7" stroke="#222" stroke-width="1.1"/>
<path d="M1384.2 880.83h4 M1743.8 880.83h-4" stroke="#222" stroke-width="1.1"/>
<path d="M1384.2 818.1h7 M1743.8 818.1h-7" stroke="#222" stroke-width="1.1"/>
<text x="1374" y="1077.4" text-anchor="end" font-size="24">0</text>
<path d="M1385 928.8H1743" fill="none" stroke="#fb0d0d" stroke-width="6.6"/>
<rect x="1385.6" y="820.3" width="66.4" height="39.2" fill="#d7213a" stroke="#000" stroke-width="2.8"/>
<text x="1467.2" y="856.5" font-size="50.5">S</text>
<text x="1563" y="1125.5" text-anchor="middle" font-size="28" font-style="italic">K<tspan font-size="17.5" dy="5.7">rank</tspan></text>
<text transform="translate(1358.4 942) rotate(-90)" text-anchor="middle" font-size="27.5" font-style="italic">r [Hz]</text>

</g>
<text x="5.5" y="790.3" font-size="33.5" font-weight="bold" style="font-family:'Liberation Sans','DejaVu Sans',sans-serif">C</text>
</g>
</svg></body></html>
